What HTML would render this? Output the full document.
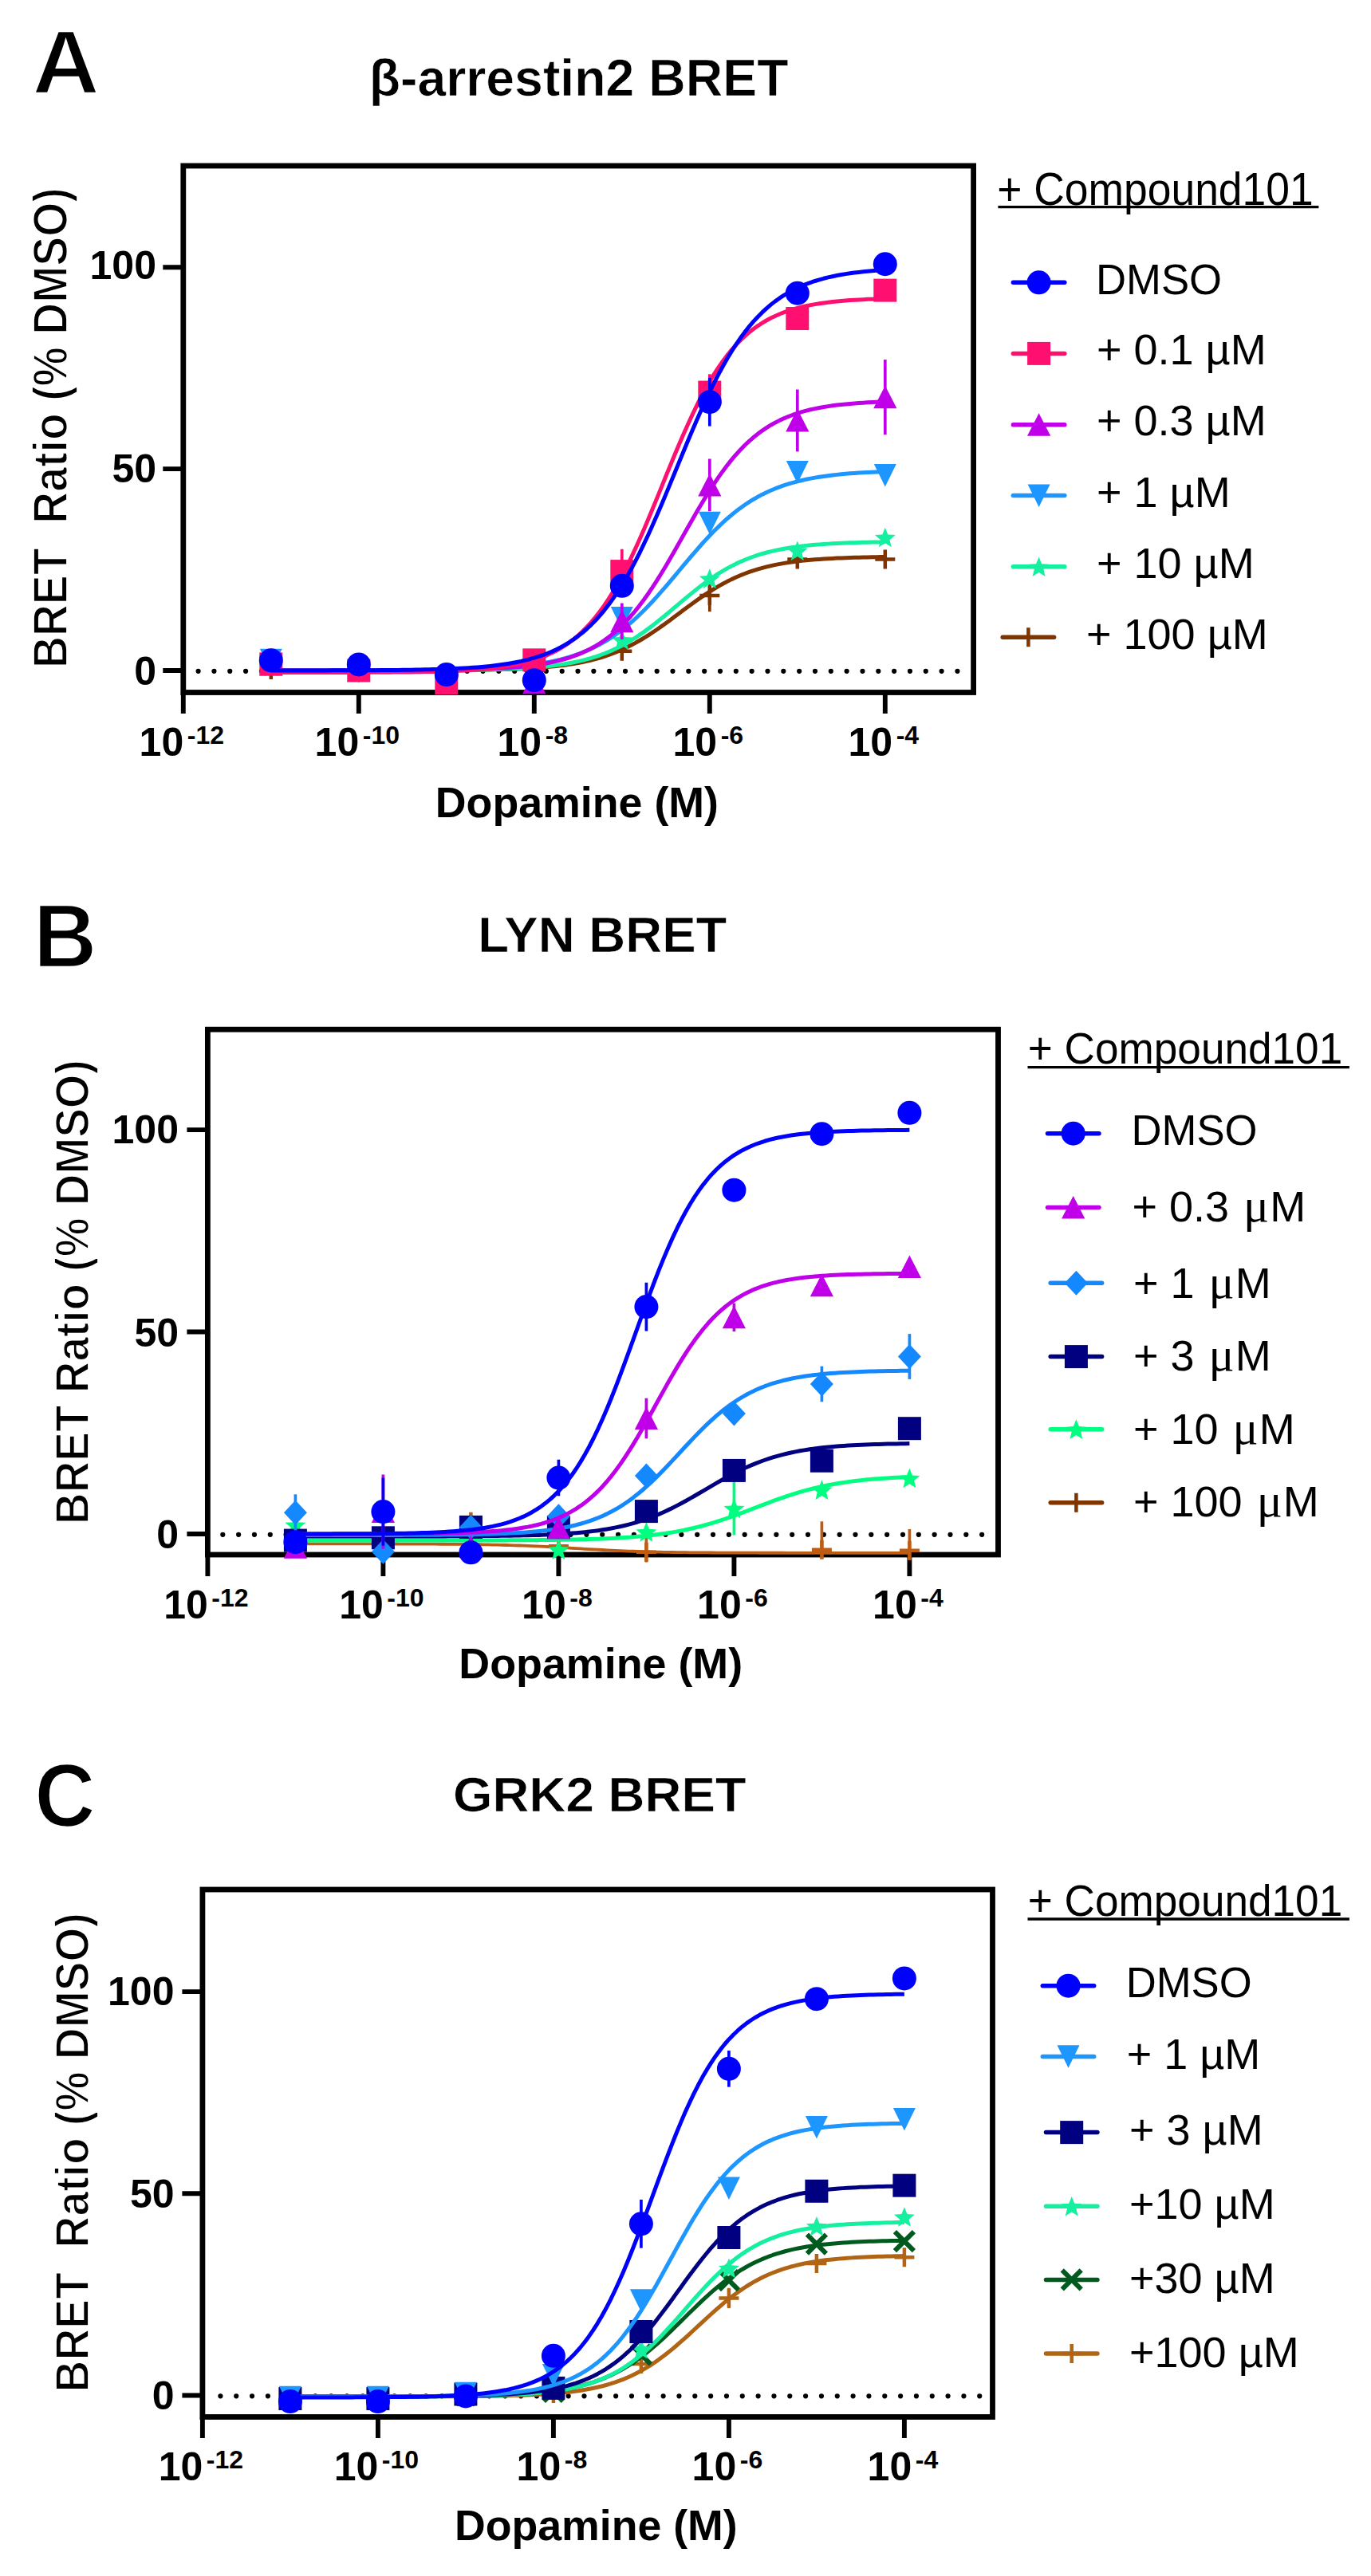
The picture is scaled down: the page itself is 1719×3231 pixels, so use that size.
<!DOCTYPE html>
<html lang="en"><head><meta charset="utf-8"><title>BRET dose-response figure</title>
<style>html,body{margin:0;padding:0;background:#fff}body{width:1719px;height:3231px;overflow:hidden}svg{display:block}text{font-family:'Liberation Sans', Arial, Helvetica, sans-serif;fill:#000}</style>
</head><body>
<svg width="1719" height="3231" viewBox="0 0 1719 3231">
<rect width="1719" height="3231" fill="#fff"/>
<g>
<text x="40.3" y="117.2" font-size="114" font-weight="bold" text-anchor="start" fill="#000" textLength="84.7" lengthAdjust="spacingAndGlyphs" stroke="#fff" stroke-width="2.4">A</text>
<text x="462.7" y="119.5" font-size="65" font-weight="bold" text-anchor="start" fill="#000" textLength="525.8" lengthAdjust="spacingAndGlyphs" stroke="#fff" stroke-width="0.7">β-arrestin2 BRET</text>
<path d="M248.6 841.8H1208.6" stroke="#000" stroke-width="6.2" stroke-linecap="round" stroke-dasharray="0 19.83" fill="none"/>
<rect x="229.8" y="208" width="990.8" height="660.5" fill="none" stroke="#000" stroke-width="6.8"/>
<path d="M204.3 841H229.8M204.3 588.15H229.8M204.3 335.3H229.8M229.8 868.5V895M449.8 868.5V895M669.8 868.5V895M889.8 868.5V895M1109.8 868.5V895" stroke="#000" stroke-width="5.9" fill="none"/>
<path d="M339.8 841 L345.3 841 L350.8 841 L356.3 841 L361.8 840.99 L367.3 840.99 L372.8 840.99 L378.3 840.99 L383.8 840.99 L389.3 840.99 L394.8 840.99 L400.3 840.99 L405.8 840.99 L411.3 840.99 L416.8 840.98 L422.3 840.98 L427.8 840.98 L433.3 840.98 L438.8 840.97 L444.3 840.97 L449.8 840.97 L455.3 840.96 L460.8 840.96 L466.3 840.95 L471.8 840.95 L477.3 840.94 L482.8 840.94 L488.3 840.93 L493.8 840.92 L499.3 840.91 L504.8 840.9 L510.3 840.89 L515.8 840.87 L521.3 840.86 L526.8 840.84 L532.3 840.82 L537.8 840.8 L543.3 840.77 L548.8 840.75 L554.3 840.72 L559.8 840.68 L565.3 840.64 L570.8 840.6 L576.3 840.55 L581.8 840.49 L587.3 840.43 L592.8 840.36 L598.3 840.29 L603.8 840.2 L609.3 840.1 L614.8 839.99 L620.3 839.87 L625.8 839.74 L631.3 839.58 L636.8 839.41 L642.3 839.22 L647.8 839.01 L653.3 838.77 L658.8 838.5 L664.3 838.2 L669.8 837.87 L675.3 837.49 L680.8 837.08 L686.3 836.61 L691.8 836.1 L697.3 835.52 L702.8 834.88 L708.3 834.17 L713.8 833.38 L719.3 832.51 L724.8 831.54 L730.3 830.47 L735.8 829.29 L741.3 827.99 L746.8 826.56 L752.3 825 L757.8 823.29 L763.3 821.42 L768.8 819.39 L774.3 817.19 L779.8 814.82 L785.3 812.27 L790.8 809.53 L796.3 806.62 L801.8 803.52 L807.3 800.25 L812.8 796.81 L818.3 793.22 L823.8 789.49 L829.3 785.63 L834.8 781.68 L840.3 777.65 L845.8 773.56 L851.3 769.44 L856.8 765.33 L862.3 761.24 L867.8 757.21 L873.3 753.25 L878.8 749.4 L884.3 745.67 L889.8 742.08 L895.3 738.64 L900.8 735.37 L906.3 732.27 L911.8 729.35 L917.3 726.62 L922.8 724.07 L928.3 721.69 L933.8 719.49 L939.3 717.47 L944.8 715.6 L950.3 713.89 L955.8 712.32 L961.3 710.9 L966.8 709.6 L972.3 708.42 L977.8 707.35 L983.3 706.38 L988.8 705.51 L994.3 704.72 L999.8 704.01 L1005.3 703.37 L1010.8 702.79 L1016.3 702.27 L1021.8 701.81 L1027.3 701.39 L1032.8 701.02 L1038.3 700.69 L1043.8 700.39 L1049.3 700.12 L1054.8 699.88 L1060.3 699.67 L1065.8 699.47 L1071.3 699.3 L1076.8 699.15 L1082.3 699.01 L1087.8 698.89 L1093.3 698.78 L1098.8 698.69 L1104.3 698.6 L1109.8 698.52" stroke="#803400" stroke-width="5" fill="none" stroke-linejoin="round"/>
<path d="M889.8 726.71V767.17" stroke="#803400" stroke-width="3.7" fill="none"/>
<path d="M327.3 839.99H352.3M339.8 827.99V851.99" stroke="#803400" stroke-width="4.5" fill="none"/>
<path d="M437.3 841H462.3M449.8 829V853" stroke="#803400" stroke-width="4.5" fill="none"/>
<path d="M547.3 846.06H572.3M559.8 834.06V858.06" stroke="#803400" stroke-width="4.5" fill="none"/>
<path d="M657.3 841H682.3M669.8 829V853" stroke="#803400" stroke-width="4.5" fill="none"/>
<path d="M767.3 816.73H792.3M779.8 804.73V828.73" stroke="#803400" stroke-width="4.5" fill="none"/>
<path d="M877.3 746.94H902.3M889.8 734.94V758.94" stroke="#803400" stroke-width="4.5" fill="none"/>
<path d="M987.3 701.43H1012.3M999.8 689.43V713.43" stroke="#803400" stroke-width="4.5" fill="none"/>
<path d="M1097.3 701.43H1122.3M1109.8 689.43V713.43" stroke="#803400" stroke-width="4.5" fill="none"/>
<path d="M339.8 841 L345.3 841 L350.8 841 L356.3 840.99 L361.8 840.99 L367.3 840.99 L372.8 840.99 L378.3 840.99 L383.8 840.99 L389.3 840.99 L394.8 840.99 L400.3 840.99 L405.8 840.98 L411.3 840.98 L416.8 840.98 L422.3 840.98 L427.8 840.98 L433.3 840.97 L438.8 840.97 L444.3 840.97 L449.8 840.96 L455.3 840.96 L460.8 840.95 L466.3 840.95 L471.8 840.94 L477.3 840.93 L482.8 840.92 L488.3 840.91 L493.8 840.9 L499.3 840.89 L504.8 840.88 L510.3 840.86 L515.8 840.85 L521.3 840.83 L526.8 840.81 L532.3 840.78 L537.8 840.76 L543.3 840.73 L548.8 840.69 L554.3 840.65 L559.8 840.61 L565.3 840.57 L570.8 840.51 L576.3 840.45 L581.8 840.39 L587.3 840.31 L592.8 840.23 L598.3 840.14 L603.8 840.03 L609.3 839.91 L614.8 839.78 L620.3 839.63 L625.8 839.47 L631.3 839.28 L636.8 839.08 L642.3 838.85 L647.8 838.59 L653.3 838.3 L658.8 837.97 L664.3 837.61 L669.8 837.21 L675.3 836.76 L680.8 836.26 L686.3 835.7 L691.8 835.07 L697.3 834.38 L702.8 833.61 L708.3 832.75 L713.8 831.8 L719.3 830.75 L724.8 829.59 L730.3 828.31 L735.8 826.89 L741.3 825.34 L746.8 823.63 L752.3 821.77 L757.8 819.73 L763.3 817.51 L768.8 815.1 L774.3 812.5 L779.8 809.69 L785.3 806.68 L790.8 803.47 L796.3 800.04 L801.8 796.42 L807.3 792.61 L812.8 788.62 L818.3 784.46 L823.8 780.15 L829.3 775.72 L834.8 771.2 L840.3 766.59 L845.8 761.95 L851.3 757.29 L856.8 752.66 L862.3 748.07 L867.8 743.56 L873.3 739.15 L878.8 734.87 L884.3 730.75 L889.8 726.79 L895.3 723.01 L900.8 719.43 L906.3 716.05 L911.8 712.88 L917.3 709.91 L922.8 707.14 L928.3 704.58 L933.8 702.21 L939.3 700.03 L944.8 698.02 L950.3 696.19 L955.8 694.51 L961.3 692.99 L966.8 691.6 L972.3 690.34 L977.8 689.2 L983.3 688.18 L988.8 687.25 L994.3 686.41 L999.8 685.65 L1005.3 684.97 L1010.8 684.36 L1016.3 683.81 L1021.8 683.32 L1027.3 682.88 L1032.8 682.49 L1038.3 682.13 L1043.8 681.82 L1049.3 681.53 L1054.8 681.28 L1060.3 681.06 L1065.8 680.85 L1071.3 680.67 L1076.8 680.51 L1082.3 680.37 L1087.8 680.24 L1093.3 680.12 L1098.8 680.02 L1104.3 679.93 L1109.8 679.85" stroke="#14f0a0" stroke-width="5" fill="none" stroke-linejoin="round"/>
<polygon points="339.8,823.54 343.33,832.29 352.73,832.94 345.51,839 347.79,848.15 339.8,843.14 331.81,848.15 334.09,839 326.87,832.94 336.27,832.29" fill="#14f0a0"/>
<polygon points="449.8,828.6 453.33,837.35 462.73,838 455.51,844.05 457.79,853.2 449.8,848.2 441.81,853.2 444.09,844.05 436.87,838 446.27,837.35" fill="#14f0a0"/>
<polygon points="559.8,833.66 563.33,842.4 572.73,843.05 565.51,849.11 567.79,858.26 559.8,853.26 551.81,858.26 554.09,849.11 546.87,843.05 556.27,842.4" fill="#14f0a0"/>
<polygon points="669.8,828.6 673.33,837.35 682.73,838 675.51,844.05 677.79,853.2 669.8,848.2 661.81,853.2 664.09,844.05 656.87,838 666.27,837.35" fill="#14f0a0"/>
<polygon points="779.8,790.17 783.33,798.91 792.73,799.56 785.51,805.62 787.79,814.77 779.8,809.77 771.81,814.77 774.09,805.62 766.87,799.56 776.27,798.91" fill="#14f0a0"/>
<polygon points="889.8,713.3 893.33,722.05 902.73,722.7 895.51,728.75 897.79,737.9 889.8,732.9 881.81,737.9 884.09,728.75 876.87,722.7 886.27,722.05" fill="#14f0a0"/>
<polygon points="999.8,678.41 1003.33,687.15 1012.73,687.8 1005.51,693.86 1007.79,703.01 999.8,698.01 991.81,703.01 994.09,693.86 986.87,687.8 996.27,687.15" fill="#14f0a0"/>
<polygon points="1109.8,661.72 1113.33,670.46 1122.73,671.12 1115.51,677.17 1117.79,686.32 1109.8,681.32 1101.81,686.32 1104.09,677.17 1096.87,671.12 1106.27,670.46" fill="#14f0a0"/>
<path d="M339.8 840.99 L345.3 840.98 L350.8 840.98 L356.3 840.98 L361.8 840.98 L367.3 840.98 L372.8 840.97 L378.3 840.97 L383.8 840.97 L389.3 840.96 L394.8 840.96 L400.3 840.95 L405.8 840.95 L411.3 840.94 L416.8 840.94 L422.3 840.93 L427.8 840.92 L433.3 840.91 L438.8 840.9 L444.3 840.89 L449.8 840.88 L455.3 840.87 L460.8 840.85 L466.3 840.84 L471.8 840.82 L477.3 840.8 L482.8 840.78 L488.3 840.75 L493.8 840.73 L499.3 840.7 L504.8 840.66 L510.3 840.62 L515.8 840.58 L521.3 840.54 L526.8 840.49 L532.3 840.43 L537.8 840.37 L543.3 840.3 L548.8 840.22 L554.3 840.13 L559.8 840.04 L565.3 839.93 L570.8 839.82 L576.3 839.69 L581.8 839.54 L587.3 839.38 L592.8 839.2 L598.3 839.01 L603.8 838.79 L609.3 838.55 L614.8 838.28 L620.3 837.98 L625.8 837.66 L631.3 837.29 L636.8 836.89 L642.3 836.44 L647.8 835.95 L653.3 835.4 L658.8 834.8 L664.3 834.13 L669.8 833.4 L675.3 832.59 L680.8 831.69 L686.3 830.71 L691.8 829.62 L697.3 828.43 L702.8 827.12 L708.3 825.68 L713.8 824.1 L719.3 822.37 L724.8 820.48 L730.3 818.42 L735.8 816.17 L741.3 813.72 L746.8 811.07 L752.3 808.19 L757.8 805.09 L763.3 801.74 L768.8 798.14 L774.3 794.29 L779.8 790.17 L785.3 785.79 L790.8 781.15 L796.3 776.24 L801.8 771.08 L807.3 765.67 L812.8 760.03 L818.3 754.18 L823.8 748.13 L829.3 741.92 L834.8 735.56 L840.3 729.1 L845.8 722.57 L851.3 715.99 L856.8 709.41 L862.3 702.87 L867.8 696.39 L873.3 690.01 L878.8 683.77 L884.3 677.69 L889.8 671.79 L895.3 666.11 L900.8 660.65 L906.3 655.44 L911.8 650.48 L917.3 645.78 L922.8 641.35 L928.3 637.18 L933.8 633.27 L939.3 629.63 L944.8 626.23 L950.3 623.08 L955.8 620.16 L961.3 617.46 L966.8 614.97 L972.3 612.69 L977.8 610.59 L983.3 608.66 L988.8 606.9 L994.3 605.3 L999.8 603.83 L1005.3 602.49 L1010.8 601.28 L1016.3 600.17 L1021.8 599.16 L1027.3 598.25 L1032.8 597.42 L1038.3 596.67 L1043.8 595.99 L1049.3 595.38 L1054.8 594.82 L1060.3 594.32 L1065.8 593.86 L1071.3 593.45 L1076.8 593.08 L1082.3 592.75 L1087.8 592.44 L1093.3 592.17 L1098.8 591.92 L1104.3 591.7 L1109.8 591.5" stroke="#1e96ff" stroke-width="5" fill="none" stroke-linejoin="round"/>
<path d="M339.8 842.15L353.8 813.65H325.8Z" fill="#1e96ff"/>
<path d="M449.8 856.82L463.8 828.32H435.8Z" fill="#1e96ff"/>
<path d="M559.8 870.98L573.8 842.48H545.8Z" fill="#1e96ff"/>
<path d="M669.8 855.3L683.8 826.8H655.8Z" fill="#1e96ff"/>
<path d="M779.8 789.56L793.8 761.06H765.8Z" fill="#1e96ff"/>
<path d="M889.8 670.21L903.8 641.71H875.8Z" fill="#1e96ff"/>
<path d="M999.8 606.5L1013.8 578H985.8Z" fill="#1e96ff"/>
<path d="M1109.8 610.54L1123.8 582.04H1095.8Z" fill="#1e96ff"/>
<path d="M339.8 840.99 L345.3 840.99 L350.8 840.99 L356.3 840.99 L361.8 840.99 L367.3 840.99 L372.8 840.99 L378.3 840.98 L383.8 840.98 L389.3 840.98 L394.8 840.98 L400.3 840.98 L405.8 840.97 L411.3 840.97 L416.8 840.97 L422.3 840.96 L427.8 840.96 L433.3 840.95 L438.8 840.95 L444.3 840.94 L449.8 840.93 L455.3 840.92 L460.8 840.91 L466.3 840.9 L471.8 840.89 L477.3 840.88 L482.8 840.87 L488.3 840.85 L493.8 840.83 L499.3 840.81 L504.8 840.79 L510.3 840.76 L515.8 840.73 L521.3 840.7 L526.8 840.66 L532.3 840.62 L537.8 840.57 L543.3 840.52 L548.8 840.46 L554.3 840.4 L559.8 840.33 L565.3 840.24 L570.8 840.15 L576.3 840.05 L581.8 839.93 L587.3 839.8 L592.8 839.66 L598.3 839.49 L603.8 839.31 L609.3 839.11 L614.8 838.88 L620.3 838.62 L625.8 838.33 L631.3 838.01 L636.8 837.65 L642.3 837.24 L647.8 836.79 L653.3 836.28 L658.8 835.71 L664.3 835.08 L669.8 834.37 L675.3 833.58 L680.8 832.7 L686.3 831.71 L691.8 830.61 L697.3 829.39 L702.8 828.03 L708.3 826.51 L713.8 824.83 L719.3 822.96 L724.8 820.89 L730.3 818.6 L735.8 816.07 L741.3 813.27 L746.8 810.2 L752.3 806.82 L757.8 803.11 L763.3 799.06 L768.8 794.65 L774.3 789.85 L779.8 784.64 L785.3 779.02 L790.8 772.98 L796.3 766.5 L801.8 759.6 L807.3 752.27 L812.8 744.52 L818.3 736.38 L823.8 727.88 L829.3 719.05 L834.8 709.92 L840.3 700.56 L845.8 691.01 L851.3 681.33 L856.8 671.59 L862.3 661.85 L867.8 652.17 L873.3 642.62 L878.8 633.26 L884.3 624.13 L889.8 615.3 L895.3 606.8 L900.8 598.66 L906.3 590.91 L911.8 583.58 L917.3 576.68 L922.8 570.2 L928.3 564.16 L933.8 558.54 L939.3 553.34 L944.8 548.53 L950.3 544.12 L955.8 540.07 L961.3 536.36 L966.8 532.98 L972.3 529.91 L977.8 527.11 L983.3 524.58 L988.8 522.29 L994.3 520.22 L999.8 518.35 L1005.3 516.67 L1010.8 515.15 L1016.3 513.79 L1021.8 512.57 L1027.3 511.47 L1032.8 510.48 L1038.3 509.6 L1043.8 508.81 L1049.3 508.1 L1054.8 507.47 L1060.3 506.9 L1065.8 506.39 L1071.3 505.94 L1076.8 505.54 L1082.3 505.17 L1087.8 504.85 L1093.3 504.56 L1098.8 504.31 L1104.3 504.08 L1109.8 503.87" stroke="#c000e8" stroke-width="5" fill="none" stroke-linejoin="round"/>
<path d="M889.8 575.51V641.25" stroke="#c000e8" stroke-width="3.7" fill="none"/>
<path d="M999.8 488.53V566.4" stroke="#c000e8" stroke-width="3.7" fill="none"/>
<path d="M1109.8 451.11V545.17" stroke="#c000e8" stroke-width="3.7" fill="none"/>
<path d="M779.8 756.55V802.06" stroke="#c000e8" stroke-width="3.7" fill="none"/>
<path d="M339.8 818.91L354.4 847.41H325.2Z" fill="#c000e8"/>
<path d="M449.8 826.5L464.4 855H435.2Z" fill="#c000e8"/>
<path d="M559.8 839.14L574.4 867.64H545.2Z" fill="#c000e8"/>
<path d="M669.8 841.67L684.4 870.17H655.2Z" fill="#c000e8"/>
<path d="M779.8 764.8L794.4 793.3H765.2Z" fill="#c000e8"/>
<path d="M889.8 593.88L904.4 622.38H875.2Z" fill="#c000e8"/>
<path d="M999.8 512.97L1014.4 541.47H985.2Z" fill="#c000e8"/>
<path d="M1109.8 483.64L1124.4 512.14H1095.2Z" fill="#c000e8"/>
<path d="M339.8 843.51 L345.3 843.51 L350.8 843.51 L356.3 843.51 L361.8 843.5 L367.3 843.5 L372.8 843.5 L378.3 843.49 L383.8 843.49 L389.3 843.48 L394.8 843.48 L400.3 843.47 L405.8 843.46 L411.3 843.46 L416.8 843.45 L422.3 843.44 L427.8 843.43 L433.3 843.41 L438.8 843.4 L444.3 843.38 L449.8 843.37 L455.3 843.35 L460.8 843.32 L466.3 843.3 L471.8 843.27 L477.3 843.24 L482.8 843.2 L488.3 843.16 L493.8 843.12 L499.3 843.07 L504.8 843.01 L510.3 842.95 L515.8 842.88 L521.3 842.8 L526.8 842.71 L532.3 842.61 L537.8 842.5 L543.3 842.38 L548.8 842.24 L554.3 842.08 L559.8 841.9 L565.3 841.71 L570.8 841.48 L576.3 841.24 L581.8 840.96 L587.3 840.65 L592.8 840.3 L598.3 839.91 L603.8 839.47 L609.3 838.98 L614.8 838.43 L620.3 837.81 L625.8 837.12 L631.3 836.36 L636.8 835.5 L642.3 834.53 L647.8 833.46 L653.3 832.26 L658.8 830.92 L664.3 829.43 L669.8 827.77 L675.3 825.92 L680.8 823.86 L686.3 821.57 L691.8 819.03 L697.3 816.21 L702.8 813.1 L708.3 809.65 L713.8 805.85 L719.3 801.66 L724.8 797.06 L730.3 792.01 L735.8 786.48 L741.3 780.46 L746.8 773.9 L752.3 766.79 L757.8 759.11 L763.3 750.84 L768.8 741.97 L774.3 732.5 L779.8 722.44 L785.3 711.81 L790.8 700.62 L796.3 688.91 L801.8 676.74 L807.3 664.15 L812.8 651.21 L818.3 638 L823.8 624.6 L829.3 611.09 L834.8 597.56 L840.3 584.1 L845.8 570.8 L851.3 557.74 L856.8 545.01 L862.3 532.66 L867.8 520.76 L873.3 509.36 L878.8 498.5 L884.3 488.21 L889.8 478.5 L895.3 469.39 L900.8 460.89 L906.3 452.97 L911.8 445.63 L917.3 438.86 L922.8 432.62 L928.3 426.9 L933.8 421.66 L939.3 416.89 L944.8 412.53 L950.3 408.58 L955.8 405 L961.3 401.75 L966.8 398.82 L972.3 396.17 L977.8 393.78 L983.3 391.64 L988.8 389.7 L994.3 387.97 L999.8 386.41 L1005.3 385.01 L1010.8 383.76 L1016.3 382.64 L1021.8 381.63 L1027.3 380.73 L1032.8 379.93 L1038.3 379.21 L1043.8 378.57 L1049.3 377.99 L1054.8 377.48 L1060.3 377.02 L1065.8 376.61 L1071.3 376.24 L1076.8 375.92 L1082.3 375.63 L1087.8 375.37 L1093.3 375.14 L1098.8 374.93 L1104.3 374.74 L1109.8 374.58" stroke="#ff1070" stroke-width="5" fill="none" stroke-linejoin="round"/>
<path d="M779.8 688.78V744.41" stroke="#ff1070" stroke-width="3.7" fill="none"/>
<path d="M889.8 469.31V514.82" stroke="#ff1070" stroke-width="3.7" fill="none"/>
<rect x="325.3" y="818.41" width="29" height="29" fill="#ff1070"/>
<rect x="435.3" y="826.5" width="29" height="29" fill="#ff1070"/>
<rect x="545.3" y="842.18" width="29" height="29" fill="#ff1070"/>
<rect x="655.3" y="813.35" width="29" height="29" fill="#ff1070"/>
<rect x="765.3" y="702.1" width="29" height="29" fill="#ff1070"/>
<rect x="875.3" y="477.57" width="29" height="29" fill="#ff1070"/>
<rect x="985.3" y="385.02" width="29" height="29" fill="#ff1070"/>
<rect x="1095.3" y="349.62" width="29" height="29" fill="#ff1070"/>
<path d="M339.8 840.97 L345.3 840.97 L350.8 840.96 L356.3 840.96 L361.8 840.96 L367.3 840.95 L372.8 840.95 L378.3 840.94 L383.8 840.93 L389.3 840.93 L394.8 840.92 L400.3 840.91 L405.8 840.9 L411.3 840.89 L416.8 840.87 L422.3 840.86 L427.8 840.85 L433.3 840.83 L438.8 840.81 L444.3 840.79 L449.8 840.76 L455.3 840.74 L460.8 840.71 L466.3 840.68 L471.8 840.64 L477.3 840.6 L482.8 840.55 L488.3 840.5 L493.8 840.45 L499.3 840.39 L504.8 840.32 L510.3 840.24 L515.8 840.16 L521.3 840.07 L526.8 839.96 L532.3 839.85 L537.8 839.72 L543.3 839.57 L548.8 839.41 L554.3 839.24 L559.8 839.04 L565.3 838.82 L570.8 838.58 L576.3 838.31 L581.8 838.02 L587.3 837.68 L592.8 837.32 L598.3 836.91 L603.8 836.45 L609.3 835.95 L614.8 835.39 L620.3 834.78 L625.8 834.09 L631.3 833.33 L636.8 832.49 L642.3 831.55 L647.8 830.52 L653.3 829.38 L658.8 828.11 L664.3 826.71 L669.8 825.16 L675.3 823.45 L680.8 821.57 L686.3 819.49 L691.8 817.2 L697.3 814.68 L702.8 811.91 L708.3 808.86 L713.8 805.53 L719.3 801.87 L724.8 797.87 L730.3 793.5 L735.8 788.75 L741.3 783.57 L746.8 777.95 L752.3 771.87 L757.8 765.3 L763.3 758.23 L768.8 750.64 L774.3 742.51 L779.8 733.83 L785.3 724.61 L790.8 714.85 L796.3 704.56 L801.8 693.76 L807.3 682.46 L812.8 670.71 L818.3 658.55 L823.8 646.03 L829.3 633.19 L834.8 620.12 L840.3 606.86 L845.8 593.51 L851.3 580.12 L856.8 566.78 L862.3 553.55 L867.8 540.52 L873.3 527.74 L878.8 515.29 L884.3 503.2 L889.8 491.54 L895.3 480.34 L900.8 469.64 L906.3 459.45 L911.8 449.8 L917.3 440.69 L922.8 432.13 L928.3 424.1 L933.8 416.61 L939.3 409.64 L944.8 403.17 L950.3 397.19 L955.8 391.66 L961.3 386.57 L966.8 381.89 L972.3 377.6 L977.8 373.67 L983.3 370.08 L988.8 366.8 L994.3 363.82 L999.8 361.1 L1005.3 358.62 L1010.8 356.38 L1016.3 354.34 L1021.8 352.49 L1027.3 350.82 L1032.8 349.3 L1038.3 347.93 L1043.8 346.69 L1049.3 345.57 L1054.8 344.55 L1060.3 343.64 L1065.8 342.81 L1071.3 342.07 L1076.8 341.4 L1082.3 340.79 L1087.8 340.24 L1093.3 339.75 L1098.8 339.31 L1104.3 338.91 L1109.8 338.55" stroke="#0000ff" stroke-width="5" fill="none" stroke-linejoin="round"/>
<path d="M889.8 473.86V534.55" stroke="#0000ff" stroke-width="3.7" fill="none"/>
<circle cx="339.8" cy="828.36" r="15" fill="#0000ff"/>
<circle cx="449.8" cy="833.41" r="15" fill="#0000ff"/>
<circle cx="559.8" cy="846.06" r="15" fill="#0000ff"/>
<circle cx="669.8" cy="853.14" r="15" fill="#0000ff"/>
<circle cx="779.8" cy="734.8" r="15" fill="#0000ff"/>
<circle cx="889.8" cy="504.2" r="15" fill="#0000ff"/>
<circle cx="999.8" cy="367.66" r="15" fill="#0000ff"/>
<circle cx="1109.8" cy="331.25" r="15" fill="#0000ff"/>
<text x="196" y="859" font-size="50" font-weight="bold" text-anchor="end" fill="#000" >0</text>
<text x="196" y="604.95" font-size="50" font-weight="bold" text-anchor="end" fill="#000" >50</text>
<text x="196" y="350.3" font-size="50" font-weight="bold" text-anchor="end" fill="#000" >100</text>
<text x="227.8" y="948" font-size="50" font-weight="bold" text-anchor="middle">10<tspan font-size="32" dy="-15" dx="4.5">-12</tspan></text>
<text x="447.8" y="948" font-size="50" font-weight="bold" text-anchor="middle">10<tspan font-size="32" dy="-15" dx="4.5">-10</tspan></text>
<text x="667.8" y="948" font-size="50" font-weight="bold" text-anchor="middle">10<tspan font-size="32" dy="-15" dx="4.5">-8</tspan></text>
<text x="887.8" y="948" font-size="50" font-weight="bold" text-anchor="middle">10<tspan font-size="32" dy="-15" dx="4.5">-6</tspan></text>
<text x="1107.8" y="948" font-size="50" font-weight="bold" text-anchor="middle">10<tspan font-size="32" dy="-15" dx="4.5">-4</tspan></text>
<text x="545.8" y="1025.3" font-size="53" font-weight="bold" text-anchor="start" fill="#000" textLength="355.1" lengthAdjust="spacingAndGlyphs" >Dopamine (M)</text>
<text transform="translate(83.5 838.1) rotate(-90)" font-size="60.5" font-weight="bold" textLength="602.8" lengthAdjust="spacingAndGlyphs" xml:space="preserve" stroke="#fff" stroke-width="1.8">BRET  Ratio (% DMSO)</text>
<text x="1250.2" y="257" font-size="57" font-weight="normal" text-anchor="start" fill="#000" textLength="396.5" lengthAdjust="spacingAndGlyphs" >+ Compound101</text>
<path d="M1251.4 259.6H1653.4" stroke="#000" stroke-width="3.4" fill="none"/>
<path d="M1270.4 354.3H1334.8" stroke="#0000ff" stroke-width="5.5" stroke-linecap="round" fill="none"/>
<circle cx="1302.6" cy="354.3" r="15" fill="#0000ff"/>
<text x="1374" y="368.6" font-size="54" font-weight="normal" text-anchor="start" fill="#000" textLength="158" lengthAdjust="spacingAndGlyphs" xml:space="preserve">DMSO</text>
<path d="M1270.4 443.4H1334.8" stroke="#ff1070" stroke-width="5.5" stroke-linecap="round" fill="none"/>
<rect x="1288.1" y="428.9" width="29" height="29" fill="#ff1070"/>
<text x="1375" y="457.4" font-size="54" font-weight="normal" text-anchor="start" fill="#000" xml:space="preserve">+ 0.1 µM</text>
<path d="M1270.4 532.8H1334.8" stroke="#c000e8" stroke-width="5.5" stroke-linecap="round" fill="none"/>
<path d="M1302.6 518.3L1317.2 546.8H1288Z" fill="#c000e8"/>
<text x="1375" y="546" font-size="54" font-weight="normal" text-anchor="start" fill="#000" xml:space="preserve">+ 0.3 µM</text>
<path d="M1270.4 621.6H1334.8" stroke="#1e96ff" stroke-width="5.5" stroke-linecap="round" fill="none"/>
<path d="M1302.6 635.9L1316.6 607.4H1288.6Z" fill="#1e96ff"/>
<text x="1375" y="636" font-size="54" font-weight="normal" text-anchor="start" fill="#000" xml:space="preserve">+ 1 µM</text>
<path d="M1270.4 710.8H1334.8" stroke="#14f0a0" stroke-width="5.5" stroke-linecap="round" fill="none"/>
<polygon points="1302.6,698.4 1306.13,707.15 1315.53,707.8 1308.31,713.85 1310.59,723 1302.6,718 1294.61,723 1296.89,713.85 1289.67,707.8 1299.07,707.15" fill="#14f0a0"/>
<text x="1375" y="725" font-size="54" font-weight="normal" text-anchor="start" fill="#000" xml:space="preserve">+ 10 µM</text>
<path d="M1257.2 799.2H1321.6" stroke="#803400" stroke-width="5.5" stroke-linecap="round" fill="none"/>
<path d="M1276.9 799.2H1301.9M1289.4 787.2V811.2" stroke="#803400" stroke-width="4.5" fill="none"/>
<text x="1362" y="814.3" font-size="54" font-weight="normal" text-anchor="start" fill="#000" xml:space="preserve">+ 100 µM</text>
</g>
<g>
<text x="41.8" y="1212.5" font-size="114" font-weight="bold" text-anchor="start" fill="#000" textLength="79.8" lengthAdjust="spacingAndGlyphs" stroke="#fff" stroke-width="2.4">B</text>
<text x="599.3" y="1194" font-size="63" font-weight="bold" text-anchor="start" fill="#000" textLength="312.1" lengthAdjust="spacingAndGlyphs" stroke="#fff" stroke-width="0.7">LYN BRET</text>
<path d="M279.3 1924.8H1239.5" stroke="#000" stroke-width="6.2" stroke-linecap="round" stroke-dasharray="0 19.83" fill="none"/>
<rect x="260.4" y="1291.2" width="991.1" height="658.8" fill="none" stroke="#000" stroke-width="6.8"/>
<path d="M234.4 1924H260.4M234.4 1670.55H260.4M234.4 1417.1H260.4M260.4 1950V1977M480.4 1950V1977M700.4 1950V1977M920.4 1950V1977M1140.4 1950V1977" stroke="#000" stroke-width="5.9" fill="none"/>
<path d="M370.4 1936.43 L375.9 1936.43 L381.4 1936.43 L386.9 1936.43 L392.4 1936.43 L397.9 1936.43 L403.4 1936.43 L408.9 1936.44 L414.4 1936.44 L419.9 1936.44 L425.4 1936.44 L430.9 1936.44 L436.4 1936.45 L441.9 1936.45 L447.4 1936.46 L452.9 1936.46 L458.4 1936.46 L463.9 1936.47 L469.4 1936.48 L474.9 1936.48 L480.4 1936.49 L485.9 1936.5 L491.4 1936.51 L496.9 1936.52 L502.4 1936.53 L507.9 1936.55 L513.4 1936.56 L518.9 1936.58 L524.4 1936.6 L529.9 1936.62 L535.4 1936.64 L540.9 1936.67 L546.4 1936.7 L551.9 1936.73 L557.4 1936.77 L562.9 1936.81 L568.4 1936.86 L573.9 1936.91 L579.4 1936.96 L584.9 1937.03 L590.4 1937.1 L595.9 1937.17 L601.4 1937.26 L606.9 1937.35 L612.4 1937.46 L617.9 1937.57 L623.4 1937.69 L628.9 1937.83 L634.4 1937.98 L639.9 1938.14 L645.4 1938.32 L650.9 1938.51 L656.4 1938.71 L661.9 1938.93 L667.4 1939.16 L672.9 1939.41 L678.4 1939.67 L683.9 1939.94 L689.4 1940.23 L694.9 1940.52 L700.4 1940.83 L705.9 1941.15 L711.4 1941.47 L716.9 1941.79 L722.4 1942.12 L727.9 1942.45 L733.4 1942.78 L738.9 1943.1 L744.4 1943.41 L749.9 1943.72 L755.4 1944.02 L760.9 1944.3 L766.4 1944.58 L771.9 1944.84 L777.4 1945.08 L782.9 1945.32 L788.4 1945.53 L793.9 1945.74 L799.4 1945.93 L804.9 1946.1 L810.4 1946.26 L815.9 1946.41 L821.4 1946.55 L826.9 1946.67 L832.4 1946.79 L837.9 1946.89 L843.4 1946.99 L848.9 1947.07 L854.4 1947.15 L859.9 1947.22 L865.4 1947.28 L870.9 1947.34 L876.4 1947.39 L881.9 1947.43 L887.4 1947.47 L892.9 1947.51 L898.4 1947.54 L903.9 1947.57 L909.4 1947.6 L914.9 1947.63 L920.4 1947.65 L925.9 1947.67 L931.4 1947.68 L936.9 1947.7 L942.4 1947.71 L947.9 1947.72 L953.4 1947.73 L958.9 1947.74 L964.4 1947.75 L969.9 1947.76 L975.4 1947.77 L980.9 1947.77 L986.4 1947.78 L991.9 1947.78 L997.4 1947.79 L1002.9 1947.79 L1008.4 1947.8 L1013.9 1947.8 L1019.4 1947.8 L1024.9 1947.8 L1030.4 1947.81 L1035.9 1947.81 L1041.4 1947.81 L1046.9 1947.81 L1052.4 1947.81 L1057.9 1947.81 L1063.4 1947.82 L1068.9 1947.82 L1074.4 1947.82 L1079.9 1947.82 L1085.4 1947.82 L1090.9 1947.82 L1096.4 1947.82 L1101.9 1947.82 L1107.4 1947.82 L1112.9 1947.82 L1118.4 1947.82 L1123.9 1947.82 L1129.4 1947.82 L1134.9 1947.82 L1140.4 1947.82" stroke="#be5c14" stroke-width="3.8" fill="none" stroke-linejoin="round"/>
<path d="M1030.4 1908.29V1954.92" stroke="#be5c14" stroke-width="3.7" fill="none"/>
<path d="M1140.4 1917.92V1956.44" stroke="#be5c14" stroke-width="3.7" fill="none"/>
<path d="M810.4 1929.07V1959.48" stroke="#be5c14" stroke-width="3.7" fill="none"/>
<path d="M357.9 1934.14H382.9M370.4 1922.14V1946.14" stroke="#be5c14" stroke-width="4.5" fill="none"/>
<path d="M467.9 1934.14H492.9M480.4 1922.14V1946.14" stroke="#be5c14" stroke-width="4.5" fill="none"/>
<path d="M577.9 1908.79H602.9M590.4 1896.79V1920.79" stroke="#be5c14" stroke-width="4.5" fill="none"/>
<path d="M687.9 1939.21H712.9M700.4 1927.21V1951.21" stroke="#be5c14" stroke-width="4.5" fill="none"/>
<path d="M797.9 1946.81H822.9M810.4 1934.81V1958.81" stroke="#be5c14" stroke-width="4.5" fill="none"/>
<path d="M1017.9 1943.77H1042.9M1030.4 1931.77V1955.77" stroke="#be5c14" stroke-width="4.5" fill="none"/>
<path d="M1127.9 1944.78H1152.9M1140.4 1932.78V1956.78" stroke="#be5c14" stroke-width="4.5" fill="none"/>
<path d="M370.4 1932.11 L375.9 1932.11 L381.4 1932.11 L386.9 1932.11 L392.4 1932.11 L397.9 1932.11 L403.4 1932.11 L408.9 1932.11 L414.4 1932.11 L419.9 1932.11 L425.4 1932.11 L430.9 1932.11 L436.4 1932.1 L441.9 1932.1 L447.4 1932.1 L452.9 1932.1 L458.4 1932.1 L463.9 1932.1 L469.4 1932.1 L474.9 1932.1 L480.4 1932.1 L485.9 1932.1 L491.4 1932.09 L496.9 1932.09 L502.4 1932.09 L507.9 1932.09 L513.4 1932.09 L518.9 1932.08 L524.4 1932.08 L529.9 1932.08 L535.4 1932.08 L540.9 1932.07 L546.4 1932.07 L551.9 1932.06 L557.4 1932.06 L562.9 1932.05 L568.4 1932.04 L573.9 1932.04 L579.4 1932.03 L584.9 1932.02 L590.4 1932.01 L595.9 1932 L601.4 1931.99 L606.9 1931.97 L612.4 1931.96 L617.9 1931.94 L623.4 1931.93 L628.9 1931.91 L634.4 1931.88 L639.9 1931.86 L645.4 1931.83 L650.9 1931.8 L656.4 1931.77 L661.9 1931.73 L667.4 1931.69 L672.9 1931.64 L678.4 1931.59 L683.9 1931.53 L689.4 1931.47 L694.9 1931.4 L700.4 1931.33 L705.9 1931.24 L711.4 1931.15 L716.9 1931.04 L722.4 1930.93 L727.9 1930.8 L733.4 1930.66 L738.9 1930.51 L744.4 1930.34 L749.9 1930.15 L755.4 1929.94 L760.9 1929.71 L766.4 1929.46 L771.9 1929.18 L777.4 1928.87 L782.9 1928.53 L788.4 1928.16 L793.9 1927.75 L799.4 1927.3 L804.9 1926.81 L810.4 1926.27 L815.9 1925.69 L821.4 1925.05 L826.9 1924.35 L832.4 1923.59 L837.9 1922.76 L843.4 1921.87 L848.9 1920.91 L854.4 1919.87 L859.9 1918.75 L865.4 1917.55 L870.9 1916.27 L876.4 1914.91 L881.9 1913.46 L887.4 1911.92 L892.9 1910.31 L898.4 1908.61 L903.9 1906.84 L909.4 1905 L914.9 1903.09 L920.4 1901.13 L925.9 1899.11 L931.4 1897.06 L936.9 1894.97 L942.4 1892.87 L947.9 1890.76 L953.4 1888.65 L958.9 1886.55 L964.4 1884.48 L969.9 1882.44 L975.4 1880.45 L980.9 1878.52 L986.4 1876.64 L991.9 1874.84 L997.4 1873.1 L1002.9 1871.45 L1008.4 1869.88 L1013.9 1868.39 L1019.4 1866.98 L1024.9 1865.66 L1030.4 1864.42 L1035.9 1863.27 L1041.4 1862.19 L1046.9 1861.19 L1052.4 1860.27 L1057.9 1859.41 L1063.4 1858.62 L1068.9 1857.89 L1074.4 1857.22 L1079.9 1856.61 L1085.4 1856.05 L1090.9 1855.54 L1096.4 1855.07 L1101.9 1854.64 L1107.4 1854.25 L1112.9 1853.9 L1118.4 1853.58 L1123.9 1853.29 L1129.4 1853.02 L1134.9 1852.78 L1140.4 1852.56" stroke="#00ff80" stroke-width="5" fill="none" stroke-linejoin="round"/>
<path d="M920.4 1858.61V1925.52" stroke="#00ff80" stroke-width="3.7" fill="none"/>
<polygon points="370.4,1900.45 373.93,1909.19 383.33,1909.85 376.11,1915.9 378.39,1925.05 370.4,1920.05 362.41,1925.05 364.69,1915.9 357.47,1909.85 366.87,1909.19" fill="#00ff80"/>
<polygon points="480.4,1916.67 483.93,1925.41 493.33,1926.07 486.11,1932.12 488.39,1941.27 480.4,1936.27 472.41,1941.27 474.69,1932.12 467.47,1926.07 476.87,1925.41" fill="#00ff80"/>
<polygon points="590.4,1911.6 593.93,1920.35 603.33,1921 596.11,1927.05 598.39,1936.2 590.4,1931.2 582.41,1936.2 584.69,1927.05 577.47,1921 586.87,1920.35" fill="#00ff80"/>
<polygon points="700.4,1931.37 703.93,1940.11 713.33,1940.77 706.11,1946.82 708.39,1955.97 700.4,1950.97 692.41,1955.97 694.69,1946.82 687.47,1940.77 696.87,1940.11" fill="#00ff80"/>
<polygon points="810.4,1909.07 813.93,1917.81 823.33,1918.46 816.11,1924.52 818.39,1933.67 810.4,1928.67 802.41,1933.67 804.69,1924.52 797.47,1918.46 806.87,1917.81" fill="#00ff80"/>
<polygon points="920.4,1879.67 923.93,1888.41 933.33,1889.06 926.11,1895.12 928.39,1904.27 920.4,1899.27 912.41,1904.27 914.69,1895.12 907.47,1889.06 916.87,1888.41" fill="#00ff80"/>
<polygon points="1030.4,1856.35 1033.93,1865.09 1043.33,1865.75 1036.11,1871.8 1038.39,1880.95 1030.4,1875.95 1022.41,1880.95 1024.69,1871.8 1017.47,1865.75 1026.87,1865.09" fill="#00ff80"/>
<polygon points="1140.4,1841.65 1143.93,1850.39 1153.33,1851.05 1146.11,1857.1 1148.39,1866.25 1140.4,1861.25 1132.41,1866.25 1134.69,1857.1 1127.47,1851.05 1136.87,1850.39" fill="#00ff80"/>
<path d="M370.4 1927.04 L375.9 1927.04 L381.4 1927.04 L386.9 1927.04 L392.4 1927.04 L397.9 1927.03 L403.4 1927.03 L408.9 1927.03 L414.4 1927.03 L419.9 1927.03 L425.4 1927.03 L430.9 1927.03 L436.4 1927.03 L441.9 1927.03 L447.4 1927.02 L452.9 1927.02 L458.4 1927.02 L463.9 1927.02 L469.4 1927.01 L474.9 1927.01 L480.4 1927.01 L485.9 1927 L491.4 1927 L496.9 1926.99 L502.4 1926.99 L507.9 1926.98 L513.4 1926.97 L518.9 1926.97 L524.4 1926.96 L529.9 1926.95 L535.4 1926.94 L540.9 1926.92 L546.4 1926.91 L551.9 1926.89 L557.4 1926.88 L562.9 1926.86 L568.4 1926.84 L573.9 1926.81 L579.4 1926.79 L584.9 1926.76 L590.4 1926.72 L595.9 1926.68 L601.4 1926.64 L606.9 1926.6 L612.4 1926.55 L617.9 1926.49 L623.4 1926.42 L628.9 1926.35 L634.4 1926.27 L639.9 1926.18 L645.4 1926.08 L650.9 1925.97 L656.4 1925.85 L661.9 1925.71 L667.4 1925.56 L672.9 1925.39 L678.4 1925.19 L683.9 1924.98 L689.4 1924.75 L694.9 1924.48 L700.4 1924.19 L705.9 1923.87 L711.4 1923.51 L716.9 1923.11 L722.4 1922.67 L727.9 1922.18 L733.4 1921.64 L738.9 1921.04 L744.4 1920.38 L749.9 1919.65 L755.4 1918.84 L760.9 1917.96 L766.4 1916.99 L771.9 1915.92 L777.4 1914.76 L782.9 1913.49 L788.4 1912.11 L793.9 1910.61 L799.4 1908.99 L804.9 1907.23 L810.4 1905.35 L815.9 1903.33 L821.4 1901.17 L826.9 1898.87 L832.4 1896.44 L837.9 1893.87 L843.4 1891.19 L848.9 1888.38 L854.4 1885.46 L859.9 1882.46 L865.4 1879.37 L870.9 1876.21 L876.4 1873.02 L881.9 1869.79 L887.4 1866.55 L892.9 1863.33 L898.4 1860.14 L903.9 1857 L909.4 1853.92 L914.9 1850.93 L920.4 1848.04 L925.9 1845.26 L931.4 1842.59 L936.9 1840.05 L942.4 1837.65 L947.9 1835.38 L953.4 1833.25 L958.9 1831.25 L964.4 1829.39 L969.9 1827.67 L975.4 1826.07 L980.9 1824.59 L986.4 1823.23 L991.9 1821.99 L997.4 1820.84 L1002.9 1819.8 L1008.4 1818.85 L1013.9 1817.98 L1019.4 1817.19 L1024.9 1816.48 L1030.4 1815.83 L1035.9 1815.24 L1041.4 1814.71 L1046.9 1814.23 L1052.4 1813.8 L1057.9 1813.4 L1063.4 1813.05 L1068.9 1812.74 L1074.4 1812.45 L1079.9 1812.19 L1085.4 1811.96 L1090.9 1811.75 L1096.4 1811.57 L1101.9 1811.4 L1107.4 1811.25 L1112.9 1811.12 L1118.4 1810.99 L1123.9 1810.89 L1129.4 1810.79 L1134.9 1810.7 L1140.4 1810.62" stroke="#000080" stroke-width="5" fill="none" stroke-linejoin="round"/>
<rect x="355.9" y="1917.61" width="29" height="29" fill="#000080"/>
<rect x="465.9" y="1914.32" width="29" height="29" fill="#000080"/>
<rect x="575.9" y="1900.88" width="29" height="29" fill="#000080"/>
<rect x="685.9" y="1900.88" width="29" height="29" fill="#000080"/>
<rect x="795.9" y="1881.11" width="29" height="29" fill="#000080"/>
<rect x="905.9" y="1829.92" width="29" height="29" fill="#000080"/>
<rect x="1015.9" y="1817.75" width="29" height="29" fill="#000080"/>
<rect x="1125.9" y="1777.2" width="29" height="29" fill="#000080"/>
<path d="M370.4 1925.51 L375.9 1925.51 L381.4 1925.51 L386.9 1925.51 L392.4 1925.51 L397.9 1925.51 L403.4 1925.5 L408.9 1925.5 L414.4 1925.5 L419.9 1925.5 L425.4 1925.49 L430.9 1925.49 L436.4 1925.49 L441.9 1925.48 L447.4 1925.48 L452.9 1925.47 L458.4 1925.47 L463.9 1925.46 L469.4 1925.45 L474.9 1925.44 L480.4 1925.43 L485.9 1925.42 L491.4 1925.41 L496.9 1925.4 L502.4 1925.38 L507.9 1925.37 L513.4 1925.35 L518.9 1925.33 L524.4 1925.3 L529.9 1925.28 L535.4 1925.25 L540.9 1925.22 L546.4 1925.18 L551.9 1925.14 L557.4 1925.09 L562.9 1925.04 L568.4 1924.98 L573.9 1924.91 L579.4 1924.84 L584.9 1924.76 L590.4 1924.66 L595.9 1924.56 L601.4 1924.44 L606.9 1924.31 L612.4 1924.16 L617.9 1924 L623.4 1923.81 L628.9 1923.61 L634.4 1923.38 L639.9 1923.12 L645.4 1922.83 L650.9 1922.51 L656.4 1922.14 L661.9 1921.74 L667.4 1921.29 L672.9 1920.78 L678.4 1920.22 L683.9 1919.59 L689.4 1918.89 L694.9 1918.11 L700.4 1917.24 L705.9 1916.28 L711.4 1915.21 L716.9 1914.02 L722.4 1912.7 L727.9 1911.25 L733.4 1909.64 L738.9 1907.87 L744.4 1905.92 L749.9 1903.78 L755.4 1901.43 L760.9 1898.87 L766.4 1896.08 L771.9 1893.06 L777.4 1889.78 L782.9 1886.25 L788.4 1882.45 L793.9 1878.39 L799.4 1874.07 L804.9 1869.5 L810.4 1864.67 L815.9 1859.61 L821.4 1854.34 L826.9 1848.87 L832.4 1843.24 L837.9 1837.48 L843.4 1831.61 L848.9 1825.68 L854.4 1819.73 L859.9 1813.8 L865.4 1807.92 L870.9 1802.13 L876.4 1796.47 L881.9 1790.97 L887.4 1785.65 L892.9 1780.55 L898.4 1775.68 L903.9 1771.05 L909.4 1766.68 L914.9 1762.57 L920.4 1758.72 L925.9 1755.13 L931.4 1751.81 L936.9 1748.73 L942.4 1745.89 L947.9 1743.29 L953.4 1740.9 L958.9 1738.72 L964.4 1736.73 L969.9 1734.93 L975.4 1733.29 L980.9 1731.8 L986.4 1730.46 L991.9 1729.25 L997.4 1728.15 L1002.9 1727.17 L1008.4 1726.28 L1013.9 1725.48 L1019.4 1724.77 L1024.9 1724.13 L1030.4 1723.55 L1035.9 1723.03 L1041.4 1722.57 L1046.9 1722.16 L1052.4 1721.79 L1057.9 1721.46 L1063.4 1721.16 L1068.9 1720.9 L1074.4 1720.66 L1079.9 1720.45 L1085.4 1720.26 L1090.9 1720.09 L1096.4 1719.94 L1101.9 1719.81 L1107.4 1719.69 L1112.9 1719.58 L1118.4 1719.49 L1123.9 1719.4 L1129.4 1719.33 L1134.9 1719.26 L1140.4 1719.2" stroke="#1488ff" stroke-width="5" fill="none" stroke-linejoin="round"/>
<path d="M370.4 1874.32V1919.94" stroke="#1488ff" stroke-width="3.7" fill="none"/>
<path d="M1030.4 1713.64V1758.24" stroke="#1488ff" stroke-width="3.7" fill="none"/>
<path d="M1140.4 1673.08V1729.86" stroke="#1488ff" stroke-width="3.7" fill="none"/>
<path d="M370.4 1881.63L384.9 1897.13L370.4 1912.63L355.9 1897.13Z" fill="#1488ff"/>
<path d="M480.4 1930.8L494.9 1946.3L480.4 1961.8L465.9 1946.3Z" fill="#1488ff"/>
<path d="M590.4 1899.88L604.9 1915.38L590.4 1930.88L575.9 1915.38Z" fill="#1488ff"/>
<path d="M700.4 1886.2L714.9 1901.7L700.4 1917.2L685.9 1901.7Z" fill="#1488ff"/>
<path d="M810.4 1835.51L824.9 1851.01L810.4 1866.51L795.9 1851.01Z" fill="#1488ff"/>
<path d="M920.4 1757.44L934.9 1772.94L920.4 1788.44L905.9 1772.94Z" fill="#1488ff"/>
<path d="M1030.4 1720.44L1044.9 1735.94L1030.4 1751.44L1015.9 1735.94Z" fill="#1488ff"/>
<path d="M1140.4 1685.97L1154.9 1701.47L1140.4 1716.97L1125.9 1701.47Z" fill="#1488ff"/>
<path d="M370.4 1923.99 L375.9 1923.98 L381.4 1923.98 L386.9 1923.98 L392.4 1923.98 L397.9 1923.97 L403.4 1923.97 L408.9 1923.97 L414.4 1923.96 L419.9 1923.96 L425.4 1923.95 L430.9 1923.95 L436.4 1923.94 L441.9 1923.93 L447.4 1923.92 L452.9 1923.91 L458.4 1923.9 L463.9 1923.89 L469.4 1923.87 L474.9 1923.86 L480.4 1923.84 L485.9 1923.82 L491.4 1923.79 L496.9 1923.76 L502.4 1923.73 L507.9 1923.7 L513.4 1923.66 L518.9 1923.62 L524.4 1923.57 L529.9 1923.51 L535.4 1923.45 L540.9 1923.38 L546.4 1923.3 L551.9 1923.2 L557.4 1923.1 L562.9 1922.99 L568.4 1922.85 L573.9 1922.71 L579.4 1922.54 L584.9 1922.35 L590.4 1922.14 L595.9 1921.9 L601.4 1921.63 L606.9 1921.32 L612.4 1920.98 L617.9 1920.59 L623.4 1920.15 L628.9 1919.66 L634.4 1919.1 L639.9 1918.48 L645.4 1917.77 L650.9 1916.98 L656.4 1916.09 L661.9 1915.1 L667.4 1913.98 L672.9 1912.72 L678.4 1911.31 L683.9 1909.74 L689.4 1907.98 L694.9 1906.01 L700.4 1903.82 L705.9 1901.38 L711.4 1898.67 L716.9 1895.67 L722.4 1892.35 L727.9 1888.69 L733.4 1884.65 L738.9 1880.23 L744.4 1875.39 L749.9 1870.13 L755.4 1864.41 L760.9 1858.23 L766.4 1851.58 L771.9 1844.47 L777.4 1836.9 L782.9 1828.88 L788.4 1820.44 L793.9 1811.62 L799.4 1802.46 L804.9 1793 L810.4 1783.32 L815.9 1773.47 L821.4 1763.52 L826.9 1753.55 L832.4 1743.63 L837.9 1733.83 L843.4 1724.23 L848.9 1714.89 L854.4 1705.85 L859.9 1697.18 L865.4 1688.91 L870.9 1681.07 L876.4 1673.68 L881.9 1666.75 L887.4 1660.29 L892.9 1654.3 L898.4 1648.76 L903.9 1643.67 L909.4 1639 L914.9 1634.74 L920.4 1630.85 L925.9 1627.33 L931.4 1624.14 L936.9 1621.26 L942.4 1618.66 L947.9 1616.32 L953.4 1614.23 L958.9 1612.35 L964.4 1610.66 L969.9 1609.16 L975.4 1607.81 L980.9 1606.61 L986.4 1605.54 L991.9 1604.59 L997.4 1603.74 L1002.9 1602.98 L1008.4 1602.31 L1013.9 1601.72 L1019.4 1601.19 L1024.9 1600.72 L1030.4 1600.3 L1035.9 1599.93 L1041.4 1599.6 L1046.9 1599.31 L1052.4 1599.05 L1057.9 1598.82 L1063.4 1598.62 L1068.9 1598.44 L1074.4 1598.28 L1079.9 1598.14 L1085.4 1598.02 L1090.9 1597.91 L1096.4 1597.81 L1101.9 1597.72 L1107.4 1597.64 L1112.9 1597.58 L1118.4 1597.51 L1123.9 1597.46 L1129.4 1597.41 L1134.9 1597.37 L1140.4 1597.34" stroke="#c000e8" stroke-width="5" fill="none" stroke-linejoin="round"/>
<path d="M480.4 1849.49V1942.76" stroke="#c000e8" stroke-width="3.7" fill="none"/>
<path d="M810.4 1753.68V1804.37" stroke="#c000e8" stroke-width="3.7" fill="none"/>
<path d="M920.4 1634.56V1670.04" stroke="#c000e8" stroke-width="3.7" fill="none"/>
<path d="M370.4 1926.23L385 1954.73H355.8Z" fill="#c000e8"/>
<path d="M480.4 1881.62L495 1910.12H465.8Z" fill="#c000e8"/>
<path d="M590.4 1925.72L605 1954.22H575.8Z" fill="#c000e8"/>
<path d="M700.4 1901.9L715 1930.4H685.8Z" fill="#c000e8"/>
<path d="M810.4 1764.53L825 1793.03H795.8Z" fill="#c000e8"/>
<path d="M920.4 1637.8L935 1666.3H905.8Z" fill="#c000e8"/>
<path d="M1030.4 1597.76L1045 1626.26H1015.8Z" fill="#c000e8"/>
<path d="M1140.4 1574.44L1155 1602.94H1125.8Z" fill="#c000e8"/>
<path d="M370.4 1923.96 L375.9 1923.95 L381.4 1923.95 L386.9 1923.94 L392.4 1923.93 L397.9 1923.92 L403.4 1923.91 L408.9 1923.9 L414.4 1923.89 L419.9 1923.87 L425.4 1923.86 L430.9 1923.84 L436.4 1923.82 L441.9 1923.8 L447.4 1923.77 L452.9 1923.74 L458.4 1923.71 L463.9 1923.67 L469.4 1923.63 L474.9 1923.58 L480.4 1923.52 L485.9 1923.46 L491.4 1923.39 L496.9 1923.31 L502.4 1923.23 L507.9 1923.13 L513.4 1923.02 L518.9 1922.89 L524.4 1922.75 L529.9 1922.59 L535.4 1922.41 L540.9 1922.2 L546.4 1921.97 L551.9 1921.71 L557.4 1921.42 L562.9 1921.09 L568.4 1920.72 L573.9 1920.3 L579.4 1919.83 L584.9 1919.3 L590.4 1918.7 L595.9 1918.03 L601.4 1917.27 L606.9 1916.42 L612.4 1915.46 L617.9 1914.38 L623.4 1913.17 L628.9 1911.82 L634.4 1910.29 L639.9 1908.59 L645.4 1906.67 L650.9 1904.53 L656.4 1902.14 L661.9 1899.47 L667.4 1896.48 L672.9 1893.16 L678.4 1889.47 L683.9 1885.37 L689.4 1880.83 L694.9 1875.81 L700.4 1870.28 L705.9 1864.19 L711.4 1857.51 L716.9 1850.21 L722.4 1842.26 L727.9 1833.63 L733.4 1824.3 L738.9 1814.26 L744.4 1803.51 L749.9 1792.06 L755.4 1779.92 L760.9 1767.14 L766.4 1753.75 L771.9 1739.82 L777.4 1725.43 L782.9 1710.65 L788.4 1695.59 L793.9 1680.35 L799.4 1665.04 L804.9 1649.76 L810.4 1634.64 L815.9 1619.77 L821.4 1605.26 L826.9 1591.2 L832.4 1577.65 L837.9 1564.69 L843.4 1552.37 L848.9 1540.73 L854.4 1529.78 L859.9 1519.54 L865.4 1510.01 L870.9 1501.19 L876.4 1493.05 L881.9 1485.57 L887.4 1478.72 L892.9 1472.47 L898.4 1466.78 L903.9 1461.62 L909.4 1456.95 L914.9 1452.73 L920.4 1448.93 L925.9 1445.51 L931.4 1442.44 L936.9 1439.68 L942.4 1437.21 L947.9 1435 L953.4 1433.03 L958.9 1431.26 L964.4 1429.69 L969.9 1428.29 L975.4 1427.04 L980.9 1425.93 L986.4 1424.94 L991.9 1424.06 L997.4 1423.28 L1002.9 1422.58 L1008.4 1421.96 L1013.9 1421.41 L1019.4 1420.93 L1024.9 1420.49 L1030.4 1420.11 L1035.9 1419.77 L1041.4 1419.47 L1046.9 1419.2 L1052.4 1418.96 L1057.9 1418.75 L1063.4 1418.56 L1068.9 1418.4 L1074.4 1418.25 L1079.9 1418.12 L1085.4 1418 L1090.9 1417.9 L1096.4 1417.81 L1101.9 1417.73 L1107.4 1417.66 L1112.9 1417.59 L1118.4 1417.54 L1123.9 1417.49 L1129.4 1417.44 L1134.9 1417.4 L1140.4 1417.37" stroke="#0000ff" stroke-width="5" fill="none" stroke-linejoin="round"/>
<path d="M810.4 1608.71V1669.54" stroke="#0000ff" stroke-width="3.7" fill="none"/>
<path d="M700.4 1830.73V1876.35" stroke="#0000ff" stroke-width="3.7" fill="none"/>
<path d="M480.4 1853.54V1938.7" stroke="#0000ff" stroke-width="3.7" fill="none"/>
<circle cx="370.4" cy="1934.14" r="15" fill="#0000ff"/>
<circle cx="480.4" cy="1896.12" r="15" fill="#0000ff"/>
<circle cx="590.4" cy="1947.32" r="15" fill="#0000ff"/>
<circle cx="700.4" cy="1853.54" r="15" fill="#0000ff"/>
<circle cx="810.4" cy="1639.12" r="15" fill="#0000ff"/>
<circle cx="920.4" cy="1492.63" r="15" fill="#0000ff"/>
<circle cx="1030.4" cy="1422.17" r="15" fill="#0000ff"/>
<circle cx="1140.4" cy="1395.81" r="15" fill="#0000ff"/>
<text x="224" y="1942" font-size="50" font-weight="bold" text-anchor="end" fill="#000" >0</text>
<text x="224" y="1688.55" font-size="50" font-weight="bold" text-anchor="end" fill="#000" >50</text>
<text x="224" y="1433.6" font-size="50" font-weight="bold" text-anchor="end" fill="#000" >100</text>
<text x="258.4" y="2030.3" font-size="50" font-weight="bold" text-anchor="middle">10<tspan font-size="32" dy="-15" dx="4.5">-12</tspan></text>
<text x="478.4" y="2030.3" font-size="50" font-weight="bold" text-anchor="middle">10<tspan font-size="32" dy="-15" dx="4.5">-10</tspan></text>
<text x="698.4" y="2030.3" font-size="50" font-weight="bold" text-anchor="middle">10<tspan font-size="32" dy="-15" dx="4.5">-8</tspan></text>
<text x="918.4" y="2030.3" font-size="50" font-weight="bold" text-anchor="middle">10<tspan font-size="32" dy="-15" dx="4.5">-6</tspan></text>
<text x="1138.4" y="2030.3" font-size="50" font-weight="bold" text-anchor="middle">10<tspan font-size="32" dy="-15" dx="4.5">-4</tspan></text>
<text x="575.3" y="2104.7" font-size="53" font-weight="bold" text-anchor="start" fill="#000" textLength="355.8" lengthAdjust="spacingAndGlyphs" >Dopamine (M)</text>
<text transform="translate(110.5 1912) rotate(-90)" font-size="59.5" font-weight="bold" textLength="582.8" lengthAdjust="spacingAndGlyphs" xml:space="preserve" stroke="#fff" stroke-width="1.8">BRET Ratio (% DMSO)</text>
<text x="1288.8" y="1334.3" font-size="55" font-weight="normal" text-anchor="start" fill="#000" textLength="394.4" lengthAdjust="spacingAndGlyphs" >+ Compound101</text>
<path d="M1288.5 1338.6H1691.9" stroke="#000" stroke-width="3.4" fill="none"/>
<path d="M1313.5 1421.7H1377.9" stroke="#0000ff" stroke-width="5.5" stroke-linecap="round" fill="none"/>
<circle cx="1345.7" cy="1421.7" r="15" fill="#0000ff"/>
<text x="1418.5" y="1435.7" font-size="54" font-weight="normal" text-anchor="start" fill="#000" textLength="158" lengthAdjust="spacingAndGlyphs" xml:space="preserve">DMSO</text>
<path d="M1313.5 1514.4H1377.9" stroke="#c000e8" stroke-width="5.5" stroke-linecap="round" fill="none"/>
<path d="M1345.7 1499.9L1360.3 1528.4H1331.1Z" fill="#c000e8"/>
<text x="1419.5" y="1531.8" font-size="54" font-weight="normal" text-anchor="start" fill="#000" xml:space="preserve">+ 0.3 <tspan dx="3" font-family='"Liberation Serif", "DejaVu Serif", serif' font-size="60">μ</tspan><tspan dx="1">M</tspan></text>
<path d="M1317.2 1609.2H1381.6" stroke="#1488ff" stroke-width="5.5" stroke-linecap="round" fill="none"/>
<path d="M1349.4 1593.7L1363.9 1609.2L1349.4 1624.7L1334.9 1609.2Z" fill="#1488ff"/>
<text x="1421" y="1627.6" font-size="54" font-weight="normal" text-anchor="start" fill="#000" xml:space="preserve">+ 1 <tspan dx="3" font-family='"Liberation Serif", "DejaVu Serif", serif' font-size="60">μ</tspan><tspan dx="1">M</tspan></text>
<path d="M1317.2 1701.6H1381.6" stroke="#000080" stroke-width="5.5" stroke-linecap="round" fill="none"/>
<rect x="1334.9" y="1687.1" width="29" height="29" fill="#000080"/>
<text x="1421" y="1719" font-size="54" font-weight="normal" text-anchor="start" fill="#000" xml:space="preserve">+ 3 <tspan dx="3" font-family='"Liberation Serif", "DejaVu Serif", serif' font-size="60">μ</tspan><tspan dx="1">M</tspan></text>
<path d="M1317.2 1792.7H1381.6" stroke="#00ff80" stroke-width="5.5" stroke-linecap="round" fill="none"/>
<polygon points="1349.4,1780.3 1352.93,1789.05 1362.33,1789.7 1355.11,1795.75 1357.39,1804.9 1349.4,1799.9 1341.41,1804.9 1343.69,1795.75 1336.47,1789.7 1345.87,1789.05" fill="#00ff80"/>
<text x="1421" y="1810.8" font-size="54" font-weight="normal" text-anchor="start" fill="#000" xml:space="preserve">+ 10 <tspan dx="3" font-family='"Liberation Serif", "DejaVu Serif", serif' font-size="60">μ</tspan><tspan dx="1">M</tspan></text>
<path d="M1317.2 1884.7H1381.6" stroke="#803400" stroke-width="5.5" stroke-linecap="round" fill="none"/>
<path d="M1336.9 1884.7H1361.9M1349.4 1872.7V1896.7" stroke="#803400" stroke-width="4.5" fill="none"/>
<text x="1421" y="1902.2" font-size="54" font-weight="normal" text-anchor="start" fill="#000" xml:space="preserve">+ 100 <tspan dx="3" font-family='"Liberation Serif", "DejaVu Serif", serif' font-size="60">μ</tspan><tspan dx="1">M</tspan></text>
</g>
<g>
<text x="43.3" y="2290.7" font-size="114" font-weight="bold" text-anchor="start" fill="#000" textLength="76.4" lengthAdjust="spacingAndGlyphs" stroke="#fff" stroke-width="2.4">C</text>
<text x="568" y="2271.9" font-size="62" font-weight="bold" text-anchor="start" fill="#000" textLength="367.7" lengthAdjust="spacingAndGlyphs" stroke="#fff" stroke-width="0.7">GRK2 BRET</text>
<path d="M276.4 3005.3H1232.5" stroke="#000" stroke-width="6.2" stroke-linecap="round" stroke-dasharray="0 19.83" fill="none"/>
<rect x="253.9" y="2370" width="990.6" height="661.5" fill="none" stroke="#000" stroke-width="6.8"/>
<path d="M228.4 3004.5H253.9M228.4 2751.3H253.9M228.4 2498.1H253.9M253.9 3031.5V3058M473.9 3031.5V3058M693.9 3031.5V3058M913.9 3031.5V3058M1133.9 3031.5V3058" stroke="#000" stroke-width="5.9" fill="none"/>
<path d="M363.9 3006.02 L369.4 3006.01 L374.9 3006.01 L380.4 3006.01 L385.9 3006.01 L391.4 3006.01 L396.9 3006.01 L402.4 3006.01 L407.9 3006.01 L413.4 3006.01 L418.9 3006.01 L424.4 3006.01 L429.9 3006 L435.4 3006 L440.9 3006 L446.4 3006 L451.9 3005.99 L457.4 3005.99 L462.9 3005.99 L468.4 3005.98 L473.9 3005.98 L479.4 3005.97 L484.9 3005.97 L490.4 3005.96 L495.9 3005.96 L501.4 3005.95 L506.9 3005.94 L512.4 3005.93 L517.9 3005.92 L523.4 3005.91 L528.9 3005.89 L534.4 3005.88 L539.9 3005.86 L545.4 3005.84 L550.9 3005.82 L556.4 3005.8 L561.9 3005.77 L567.4 3005.74 L572.9 3005.7 L578.4 3005.67 L583.9 3005.62 L589.4 3005.58 L594.9 3005.52 L600.4 3005.46 L605.9 3005.39 L611.4 3005.32 L616.9 3005.23 L622.4 3005.14 L627.9 3005.03 L633.4 3004.91 L638.9 3004.77 L644.4 3004.62 L649.9 3004.45 L655.4 3004.26 L660.9 3004.05 L666.4 3003.82 L671.9 3003.55 L677.4 3003.25 L682.9 3002.92 L688.4 3002.55 L693.9 3002.14 L699.4 3001.68 L704.9 3001.16 L710.4 3000.59 L715.9 2999.95 L721.4 2999.23 L726.9 2998.44 L732.4 2997.56 L737.9 2996.58 L743.4 2995.5 L748.9 2994.3 L754.4 2992.98 L759.9 2991.52 L765.4 2989.91 L770.9 2988.14 L776.4 2986.2 L781.9 2984.08 L787.4 2981.77 L792.9 2979.26 L798.4 2976.54 L803.9 2973.6 L809.4 2970.44 L814.9 2967.05 L820.4 2963.44 L825.9 2959.6 L831.4 2955.55 L836.9 2951.29 L842.4 2946.85 L847.9 2942.22 L853.4 2937.45 L858.9 2932.55 L864.4 2927.56 L869.9 2922.49 L875.4 2917.4 L880.9 2912.3 L886.4 2907.24 L891.9 2902.25 L897.4 2897.35 L902.9 2892.57 L908.4 2887.95 L913.9 2883.5 L919.4 2879.25 L924.9 2875.2 L930.4 2871.36 L935.9 2867.75 L941.4 2864.36 L946.9 2861.2 L952.4 2858.26 L957.9 2855.54 L963.4 2853.03 L968.9 2850.72 L974.4 2848.6 L979.9 2846.66 L985.4 2844.89 L990.9 2843.28 L996.4 2841.82 L1001.9 2840.5 L1007.4 2839.3 L1012.9 2838.22 L1018.4 2837.24 L1023.9 2836.36 L1029.4 2835.57 L1034.9 2834.85 L1040.4 2834.21 L1045.9 2833.64 L1051.4 2833.12 L1056.9 2832.66 L1062.4 2832.25 L1067.9 2831.88 L1073.4 2831.54 L1078.9 2831.25 L1084.4 2830.98 L1089.9 2830.75 L1095.4 2830.53 L1100.9 2830.34 L1106.4 2830.18 L1111.9 2830.03 L1117.4 2829.89 L1122.9 2829.77 L1128.4 2829.66 L1133.9 2829.57" stroke="#b06414" stroke-width="5" fill="none" stroke-linejoin="round"/>
<path d="M913.9 2869.8V2895.12" stroke="#b06414" stroke-width="3.7" fill="none"/>
<path d="M351.4 3007.03H376.4M363.9 2995.03V3019.03" stroke="#b06414" stroke-width="4.5" fill="none"/>
<path d="M461.4 3007.03H486.4M473.9 2995.03V3019.03" stroke="#b06414" stroke-width="4.5" fill="none"/>
<path d="M571.4 3004.5H596.4M583.9 2992.5V3016.5" stroke="#b06414" stroke-width="4.5" fill="none"/>
<path d="M681.4 3001.97H706.4M693.9 2989.97V3013.97" stroke="#b06414" stroke-width="4.5" fill="none"/>
<path d="M791.4 2965H816.4M803.9 2953V2977" stroke="#b06414" stroke-width="4.5" fill="none"/>
<path d="M901.4 2882.46H926.4M913.9 2870.46V2894.46" stroke="#b06414" stroke-width="4.5" fill="none"/>
<path d="M1011.4 2838.91H1036.4M1023.9 2826.91V2850.91" stroke="#b06414" stroke-width="4.5" fill="none"/>
<path d="M1121.4 2831.31H1146.4M1133.9 2819.31V2843.31" stroke="#b06414" stroke-width="4.5" fill="none"/>
<path d="M363.9 3006.01 L369.4 3006.01 L374.9 3006.01 L380.4 3006.01 L385.9 3006 L391.4 3006 L396.9 3006 L402.4 3006 L407.9 3006 L413.4 3005.99 L418.9 3005.99 L424.4 3005.99 L429.9 3005.98 L435.4 3005.98 L440.9 3005.97 L446.4 3005.97 L451.9 3005.96 L457.4 3005.96 L462.9 3005.95 L468.4 3005.94 L473.9 3005.93 L479.4 3005.92 L484.9 3005.91 L490.4 3005.9 L495.9 3005.88 L501.4 3005.87 L506.9 3005.85 L512.4 3005.83 L517.9 3005.81 L523.4 3005.78 L528.9 3005.75 L534.4 3005.72 L539.9 3005.69 L545.4 3005.65 L550.9 3005.61 L556.4 3005.56 L561.9 3005.5 L567.4 3005.44 L572.9 3005.38 L578.4 3005.3 L583.9 3005.22 L589.4 3005.13 L594.9 3005.02 L600.4 3004.91 L605.9 3004.78 L611.4 3004.63 L616.9 3004.47 L622.4 3004.29 L627.9 3004.09 L633.4 3003.87 L638.9 3003.62 L644.4 3003.35 L649.9 3003.04 L655.4 3002.7 L660.9 3002.32 L666.4 3001.89 L671.9 3001.42 L677.4 3000.9 L682.9 3000.32 L688.4 2999.67 L693.9 2998.96 L699.4 2998.16 L704.9 2997.29 L710.4 2996.32 L715.9 2995.25 L721.4 2994.06 L726.9 2992.76 L732.4 2991.33 L737.9 2989.75 L743.4 2988.03 L748.9 2986.13 L754.4 2984.07 L759.9 2981.82 L765.4 2979.38 L770.9 2976.73 L776.4 2973.87 L781.9 2970.78 L787.4 2967.47 L792.9 2963.93 L798.4 2960.16 L803.9 2956.16 L809.4 2951.94 L814.9 2947.5 L820.4 2942.86 L825.9 2938.03 L831.4 2933.04 L836.9 2927.9 L842.4 2922.65 L847.9 2917.3 L853.4 2911.9 L858.9 2906.47 L864.4 2901.06 L869.9 2895.68 L875.4 2890.37 L880.9 2885.17 L886.4 2880.1 L891.9 2875.18 L897.4 2870.44 L902.9 2865.9 L908.4 2861.56 L913.9 2857.45 L919.4 2853.56 L924.9 2849.9 L930.4 2846.47 L935.9 2843.27 L941.4 2840.29 L946.9 2837.53 L952.4 2834.98 L957.9 2832.63 L963.4 2830.47 L968.9 2828.49 L974.4 2826.68 L979.9 2825.03 L985.4 2823.52 L990.9 2822.15 L996.4 2820.91 L1001.9 2819.78 L1007.4 2818.76 L1012.9 2817.84 L1018.4 2817 L1023.9 2816.25 L1029.4 2815.57 L1034.9 2814.95 L1040.4 2814.4 L1045.9 2813.9 L1051.4 2813.45 L1056.9 2813.05 L1062.4 2812.69 L1067.9 2812.36 L1073.4 2812.07 L1078.9 2811.81 L1084.4 2811.57 L1089.9 2811.36 L1095.4 2811.17 L1100.9 2811 L1106.4 2810.85 L1111.9 2810.71 L1117.4 2810.59 L1122.9 2810.48 L1128.4 2810.38 L1133.9 2810.29" stroke="#005a1e" stroke-width="5" fill="none" stroke-linejoin="round"/>
<path d="M351.9 2995.03L375.9 3019.03M375.9 2995.03L351.9 3019.03" stroke="#005a1e" stroke-width="6" fill="none"/>
<path d="M461.9 2995.03L485.9 3019.03M485.9 2995.03L461.9 3019.03" stroke="#005a1e" stroke-width="6" fill="none"/>
<path d="M571.9 2992.5L595.9 3016.5M595.9 2992.5L571.9 3016.5" stroke="#005a1e" stroke-width="6" fill="none"/>
<path d="M681.9 2987.94L705.9 3011.94M705.9 2987.94L681.9 3011.94" stroke="#005a1e" stroke-width="6" fill="none"/>
<path d="M791.9 2941.35L815.9 2965.35M815.9 2941.35L791.9 2965.35" stroke="#005a1e" stroke-width="6" fill="none"/>
<path d="M901.9 2848.18L925.9 2872.18M925.9 2848.18L901.9 2872.18" stroke="#005a1e" stroke-width="6" fill="none"/>
<path d="M1011.9 2802.6L1035.9 2826.6M1035.9 2802.6L1011.9 2826.6" stroke="#005a1e" stroke-width="6" fill="none"/>
<path d="M1121.9 2799.06L1145.9 2823.06M1145.9 2799.06L1121.9 2823.06" stroke="#005a1e" stroke-width="6" fill="none"/>
<path d="M363.9 3006.01 L369.4 3006.01 L374.9 3006.01 L380.4 3006.01 L385.9 3006.01 L391.4 3006.01 L396.9 3006.01 L402.4 3006 L407.9 3006 L413.4 3006 L418.9 3006 L424.4 3005.99 L429.9 3005.99 L435.4 3005.99 L440.9 3005.98 L446.4 3005.98 L451.9 3005.98 L457.4 3005.97 L462.9 3005.96 L468.4 3005.96 L473.9 3005.95 L479.4 3005.94 L484.9 3005.93 L490.4 3005.92 L495.9 3005.91 L501.4 3005.9 L506.9 3005.88 L512.4 3005.87 L517.9 3005.85 L523.4 3005.83 L528.9 3005.8 L534.4 3005.78 L539.9 3005.75 L545.4 3005.71 L550.9 3005.67 L556.4 3005.63 L561.9 3005.59 L567.4 3005.53 L572.9 3005.47 L578.4 3005.41 L583.9 3005.33 L589.4 3005.25 L594.9 3005.16 L600.4 3005.05 L605.9 3004.93 L611.4 3004.8 L616.9 3004.65 L622.4 3004.49 L627.9 3004.3 L633.4 3004.1 L638.9 3003.86 L644.4 3003.6 L649.9 3003.31 L655.4 3002.99 L660.9 3002.62 L666.4 3002.21 L671.9 3001.76 L677.4 3001.25 L682.9 3000.68 L688.4 3000.05 L693.9 2999.34 L699.4 2998.56 L704.9 2997.68 L710.4 2996.71 L715.9 2995.62 L721.4 2994.42 L726.9 2993.09 L732.4 2991.62 L737.9 2989.99 L743.4 2988.19 L748.9 2986.21 L754.4 2984.04 L759.9 2981.65 L765.4 2979.04 L770.9 2976.2 L776.4 2973.11 L781.9 2969.76 L787.4 2966.14 L792.9 2962.24 L798.4 2958.07 L803.9 2953.61 L809.4 2948.89 L814.9 2943.89 L820.4 2938.64 L825.9 2933.15 L831.4 2927.44 L836.9 2921.55 L842.4 2915.5 L847.9 2909.32 L853.4 2903.07 L858.9 2896.76 L864.4 2890.46 L869.9 2884.19 L875.4 2878 L880.9 2871.94 L886.4 2866.02 L891.9 2860.29 L897.4 2854.77 L902.9 2849.49 L908.4 2844.47 L913.9 2839.71 L919.4 2835.22 L924.9 2831.01 L930.4 2827.08 L935.9 2823.43 L941.4 2820.05 L946.9 2816.93 L952.4 2814.05 L957.9 2811.42 L963.4 2809.01 L968.9 2806.81 L974.4 2804.81 L979.9 2802.99 L985.4 2801.34 L990.9 2799.85 L996.4 2798.5 L1001.9 2797.28 L1007.4 2796.19 L1012.9 2795.2 L1018.4 2794.31 L1023.9 2793.51 L1029.4 2792.8 L1034.9 2792.16 L1040.4 2791.58 L1045.9 2791.07 L1051.4 2790.61 L1056.9 2790.19 L1062.4 2789.82 L1067.9 2789.49 L1073.4 2789.2 L1078.9 2788.93 L1084.4 2788.7 L1089.9 2788.49 L1095.4 2788.3 L1100.9 2788.13 L1106.4 2787.98 L1111.9 2787.85 L1117.4 2787.73 L1122.9 2787.62 L1128.4 2787.53 L1133.9 2787.44" stroke="#14f0a0" stroke-width="5" fill="none" stroke-linejoin="round"/>
<polygon points="363.9,2994.63 367.43,3003.38 376.83,3004.03 369.61,3010.09 371.89,3019.23 363.9,3014.23 355.91,3019.23 358.19,3010.09 350.97,3004.03 360.37,3003.38" fill="#14f0a0"/>
<polygon points="473.9,2993.62 477.43,3002.37 486.83,3003.02 479.61,3009.07 481.89,3018.22 473.9,3013.22 465.91,3018.22 468.19,3009.07 460.97,3003.02 470.37,3002.37" fill="#14f0a0"/>
<polygon points="583.9,2989.57 587.43,2998.31 596.83,2998.97 589.61,3005.02 591.89,3014.17 583.9,3009.17 575.91,3014.17 578.19,3005.02 570.97,2998.97 580.37,2998.31" fill="#14f0a0"/>
<polygon points="693.9,2984.5 697.43,2993.25 706.83,2993.9 699.61,2999.96 701.89,3009.11 693.9,3004.1 685.91,3009.11 688.19,2999.96 680.97,2993.9 690.37,2993.25" fill="#14f0a0"/>
<polygon points="803.9,2933.86 807.43,2942.61 816.83,2943.26 809.61,2949.32 811.89,2958.47 803.9,2953.46 795.91,2958.47 798.19,2949.32 790.97,2943.26 800.37,2942.61" fill="#14f0a0"/>
<polygon points="913.9,2832.58 917.43,2841.33 926.83,2841.98 919.61,2848.04 921.89,2857.19 913.9,2852.18 905.91,2857.19 908.19,2848.04 900.97,2841.98 910.37,2841.33" fill="#14f0a0"/>
<polygon points="1023.9,2779.92 1027.43,2788.66 1036.83,2789.32 1029.61,2795.37 1031.89,2804.52 1023.9,2799.52 1015.91,2804.52 1018.19,2795.37 1010.97,2789.32 1020.37,2788.66" fill="#14f0a0"/>
<polygon points="1133.9,2768.27 1137.43,2777.02 1146.83,2777.67 1139.61,2783.73 1141.89,2792.87 1133.9,2787.87 1125.91,2792.87 1128.19,2783.73 1120.97,2777.67 1130.37,2777.02" fill="#14f0a0"/>
<path d="M363.9 3006.01 L369.4 3006.01 L374.9 3006.01 L380.4 3006.01 L385.9 3006 L391.4 3006 L396.9 3006 L402.4 3006 L407.9 3005.99 L413.4 3005.99 L418.9 3005.99 L424.4 3005.98 L429.9 3005.98 L435.4 3005.97 L440.9 3005.97 L446.4 3005.96 L451.9 3005.96 L457.4 3005.95 L462.9 3005.94 L468.4 3005.93 L473.9 3005.92 L479.4 3005.91 L484.9 3005.89 L490.4 3005.88 L495.9 3005.86 L501.4 3005.84 L506.9 3005.82 L512.4 3005.79 L517.9 3005.77 L523.4 3005.74 L528.9 3005.7 L534.4 3005.66 L539.9 3005.62 L545.4 3005.57 L550.9 3005.52 L556.4 3005.46 L561.9 3005.39 L567.4 3005.31 L572.9 3005.22 L578.4 3005.13 L583.9 3005.02 L589.4 3004.9 L594.9 3004.76 L600.4 3004.61 L605.9 3004.44 L611.4 3004.24 L616.9 3004.03 L622.4 3003.79 L627.9 3003.52 L633.4 3003.22 L638.9 3002.88 L644.4 3002.5 L649.9 3002.08 L655.4 3001.61 L660.9 3001.08 L666.4 3000.49 L671.9 2999.83 L677.4 2999.09 L682.9 2998.27 L688.4 2997.36 L693.9 2996.34 L699.4 2995.21 L704.9 2993.95 L710.4 2992.55 L715.9 2991 L721.4 2989.28 L726.9 2987.38 L732.4 2985.29 L737.9 2982.98 L743.4 2980.44 L748.9 2977.65 L754.4 2974.6 L759.9 2971.27 L765.4 2967.65 L770.9 2963.71 L776.4 2959.46 L781.9 2954.87 L787.4 2949.95 L792.9 2944.7 L798.4 2939.11 L803.9 2933.19 L809.4 2926.95 L814.9 2920.42 L820.4 2913.62 L825.9 2906.58 L831.4 2899.33 L836.9 2891.92 L842.4 2884.4 L847.9 2876.8 L853.4 2869.18 L858.9 2861.58 L864.4 2854.07 L869.9 2846.69 L875.4 2839.47 L880.9 2832.46 L886.4 2825.71 L891.9 2819.22 L897.4 2813.04 L902.9 2807.17 L908.4 2801.63 L913.9 2796.43 L919.4 2791.56 L924.9 2787.03 L930.4 2782.83 L935.9 2778.94 L941.4 2775.37 L946.9 2772.08 L952.4 2769.07 L957.9 2766.33 L963.4 2763.83 L968.9 2761.55 L974.4 2759.49 L979.9 2757.62 L985.4 2755.93 L990.9 2754.41 L996.4 2753.03 L1001.9 2751.79 L1007.4 2750.68 L1012.9 2749.68 L1018.4 2748.78 L1023.9 2747.97 L1029.4 2747.25 L1034.9 2746.6 L1040.4 2746.02 L1045.9 2745.51 L1051.4 2745.04 L1056.9 2744.63 L1062.4 2744.25 L1067.9 2743.92 L1073.4 2743.63 L1078.9 2743.36 L1084.4 2743.13 L1089.9 2742.91 L1095.4 2742.73 L1100.9 2742.56 L1106.4 2742.41 L1111.9 2742.27 L1117.4 2742.15 L1122.9 2742.05 L1128.4 2741.95 L1133.9 2741.87" stroke="#000080" stroke-width="5" fill="none" stroke-linejoin="round"/>
<rect x="349.4" y="2994.05" width="29" height="29" fill="#000080"/>
<rect x="459.4" y="2994.05" width="29" height="29" fill="#000080"/>
<rect x="569.4" y="2988.48" width="29" height="29" fill="#000080"/>
<rect x="679.4" y="2980.88" width="29" height="29" fill="#000080"/>
<rect x="789.4" y="2909.99" width="29" height="29" fill="#000080"/>
<rect x="899.4" y="2792" width="29" height="29" fill="#000080"/>
<rect x="1009.4" y="2733.76" width="29" height="29" fill="#000080"/>
<rect x="1119.4" y="2726.67" width="29" height="29" fill="#000080"/>
<path d="M363.9 3006.01 L369.4 3006 L374.9 3006 L380.4 3006 L385.9 3006 L391.4 3006 L396.9 3005.99 L402.4 3005.99 L407.9 3005.99 L413.4 3005.98 L418.9 3005.98 L424.4 3005.97 L429.9 3005.97 L435.4 3005.96 L440.9 3005.95 L446.4 3005.94 L451.9 3005.93 L457.4 3005.92 L462.9 3005.91 L468.4 3005.9 L473.9 3005.88 L479.4 3005.87 L484.9 3005.85 L490.4 3005.82 L495.9 3005.8 L501.4 3005.77 L506.9 3005.74 L512.4 3005.71 L517.9 3005.67 L523.4 3005.63 L528.9 3005.58 L534.4 3005.52 L539.9 3005.46 L545.4 3005.39 L550.9 3005.31 L556.4 3005.22 L561.9 3005.12 L567.4 3005.01 L572.9 3004.89 L578.4 3004.75 L583.9 3004.59 L589.4 3004.41 L594.9 3004.21 L600.4 3003.99 L605.9 3003.74 L611.4 3003.46 L616.9 3003.14 L622.4 3002.78 L627.9 3002.38 L633.4 3001.94 L638.9 3001.44 L644.4 3000.87 L649.9 3000.24 L655.4 2999.54 L660.9 2998.75 L666.4 2997.86 L671.9 2996.87 L677.4 2995.76 L682.9 2994.53 L688.4 2993.15 L693.9 2991.62 L699.4 2989.91 L704.9 2988 L710.4 2985.89 L715.9 2983.55 L721.4 2980.95 L726.9 2978.08 L732.4 2974.91 L737.9 2971.43 L743.4 2967.6 L748.9 2963.41 L754.4 2958.83 L759.9 2953.84 L765.4 2948.43 L770.9 2942.58 L776.4 2936.28 L781.9 2929.53 L787.4 2922.32 L792.9 2914.66 L798.4 2906.58 L803.9 2898.08 L809.4 2889.21 L814.9 2880 L820.4 2870.49 L825.9 2860.75 L831.4 2850.83 L836.9 2840.8 L842.4 2830.72 L847.9 2820.67 L853.4 2810.71 L858.9 2800.91 L864.4 2791.34 L869.9 2782.04 L875.4 2773.07 L880.9 2764.46 L886.4 2756.26 L891.9 2748.48 L897.4 2741.15 L902.9 2734.26 L908.4 2727.84 L913.9 2721.86 L919.4 2716.33 L924.9 2711.23 L930.4 2706.53 L935.9 2702.24 L941.4 2698.31 L946.9 2694.73 L952.4 2691.48 L957.9 2688.52 L963.4 2685.85 L968.9 2683.44 L974.4 2681.27 L979.9 2679.31 L985.4 2677.54 L990.9 2675.96 L996.4 2674.54 L1001.9 2673.27 L1007.4 2672.13 L1012.9 2671.11 L1018.4 2670.19 L1023.9 2669.38 L1029.4 2668.65 L1034.9 2668 L1040.4 2667.42 L1045.9 2666.9 L1051.4 2666.43 L1056.9 2666.02 L1062.4 2665.66 L1067.9 2665.33 L1073.4 2665.04 L1078.9 2664.78 L1084.4 2664.55 L1089.9 2664.34 L1095.4 2664.16 L1100.9 2663.99 L1106.4 2663.85 L1111.9 2663.72 L1117.4 2663.61 L1122.9 2663.5 L1128.4 2663.41 L1133.9 2663.33" stroke="#1e96ff" stroke-width="5" fill="none" stroke-linejoin="round"/>
<path d="M363.9 3021.33L377.9 2992.83H349.9Z" fill="#1e96ff"/>
<path d="M473.9 3021.33L487.9 2992.83H459.9Z" fill="#1e96ff"/>
<path d="M583.9 3016.27L597.9 2987.77H569.9Z" fill="#1e96ff"/>
<path d="M693.9 2993.48L707.9 2964.98H679.9Z" fill="#1e96ff"/>
<path d="M803.9 2899.8L817.9 2871.3H789.9Z" fill="#1e96ff"/>
<path d="M913.9 2759.02L927.9 2730.52H899.9Z" fill="#1e96ff"/>
<path d="M1023.9 2682.55L1037.9 2654.05H1009.9Z" fill="#1e96ff"/>
<path d="M1133.9 2672.42L1147.9 2643.92H1119.9Z" fill="#1e96ff"/>
<path d="M363.9 3007 L369.4 3007 L374.9 3007 L380.4 3006.99 L385.9 3006.99 L391.4 3006.98 L396.9 3006.97 L402.4 3006.97 L407.9 3006.96 L413.4 3006.95 L418.9 3006.94 L424.4 3006.93 L429.9 3006.92 L435.4 3006.9 L440.9 3006.88 L446.4 3006.87 L451.9 3006.84 L457.4 3006.82 L462.9 3006.79 L468.4 3006.76 L473.9 3006.73 L479.4 3006.69 L484.9 3006.65 L490.4 3006.6 L495.9 3006.55 L501.4 3006.49 L506.9 3006.42 L512.4 3006.34 L517.9 3006.26 L523.4 3006.16 L528.9 3006.05 L534.4 3005.93 L539.9 3005.79 L545.4 3005.63 L550.9 3005.45 L556.4 3005.26 L561.9 3005.03 L567.4 3004.78 L572.9 3004.5 L578.4 3004.18 L583.9 3003.83 L589.4 3003.43 L594.9 3002.98 L600.4 3002.47 L605.9 3001.9 L611.4 3001.26 L616.9 3000.55 L622.4 2999.74 L627.9 2998.84 L633.4 2997.83 L638.9 2996.69 L644.4 2995.42 L649.9 2993.99 L655.4 2992.4 L660.9 2990.62 L666.4 2988.63 L671.9 2986.4 L677.4 2983.92 L682.9 2981.16 L688.4 2978.09 L693.9 2974.68 L699.4 2970.9 L704.9 2966.71 L710.4 2962.09 L715.9 2956.99 L721.4 2951.38 L726.9 2945.23 L732.4 2938.5 L737.9 2931.17 L743.4 2923.2 L748.9 2914.57 L754.4 2905.27 L759.9 2895.28 L765.4 2884.61 L770.9 2873.27 L776.4 2861.28 L781.9 2848.67 L787.4 2835.48 L792.9 2821.78 L798.4 2807.65 L803.9 2793.14 L809.4 2778.38 L814.9 2763.44 L820.4 2748.43 L825.9 2733.46 L831.4 2718.63 L836.9 2704.05 L842.4 2689.8 L847.9 2675.97 L853.4 2662.63 L858.9 2649.86 L864.4 2637.69 L869.9 2626.16 L875.4 2615.3 L880.9 2605.12 L886.4 2595.63 L891.9 2586.82 L897.4 2578.66 L902.9 2571.15 L908.4 2564.26 L913.9 2557.95 L919.4 2552.19 L924.9 2546.95 L930.4 2542.2 L935.9 2537.89 L941.4 2534 L946.9 2530.49 L952.4 2527.33 L957.9 2524.48 L963.4 2521.93 L968.9 2519.64 L974.4 2517.58 L979.9 2515.74 L985.4 2514.1 L990.9 2512.63 L996.4 2511.32 L1001.9 2510.14 L1007.4 2509.1 L1012.9 2508.16 L1018.4 2507.33 L1023.9 2506.59 L1029.4 2505.93 L1034.9 2505.35 L1040.4 2504.82 L1045.9 2504.36 L1051.4 2503.94 L1056.9 2503.58 L1062.4 2503.25 L1067.9 2502.96 L1073.4 2502.7 L1078.9 2502.47 L1084.4 2502.26 L1089.9 2502.08 L1095.4 2501.92 L1100.9 2501.78 L1106.4 2501.65 L1111.9 2501.53 L1117.4 2501.43 L1122.9 2501.34 L1128.4 2501.27 L1133.9 2501.19" stroke="#0000ff" stroke-width="5" fill="none" stroke-linejoin="round"/>
<path d="M803.9 2758.9V2819.66" stroke="#0000ff" stroke-width="3.7" fill="none"/>
<path d="M913.9 2572.03V2617.61" stroke="#0000ff" stroke-width="3.7" fill="none"/>
<circle cx="363.9" cy="3012.1" r="15" fill="#0000ff"/>
<circle cx="473.9" cy="3012.1" r="15" fill="#0000ff"/>
<circle cx="583.9" cy="3005.51" r="15" fill="#0000ff"/>
<circle cx="693.9" cy="2954.87" r="15" fill="#0000ff"/>
<circle cx="803.9" cy="2789.28" r="15" fill="#0000ff"/>
<circle cx="913.9" cy="2594.82" r="15" fill="#0000ff"/>
<circle cx="1023.9" cy="2507.22" r="15" fill="#0000ff"/>
<circle cx="1133.9" cy="2481.39" r="15" fill="#0000ff"/>
<text x="218.5" y="3022.1" font-size="50" font-weight="bold" text-anchor="end" fill="#000" >0</text>
<text x="218.5" y="2768.9" font-size="50" font-weight="bold" text-anchor="end" fill="#000" >50</text>
<text x="218.5" y="2514.7" font-size="50" font-weight="bold" text-anchor="end" fill="#000" >100</text>
<text x="251.9" y="3110.8" font-size="50" font-weight="bold" text-anchor="middle">10<tspan font-size="32" dy="-15" dx="4.5">-12</tspan></text>
<text x="471.9" y="3110.8" font-size="50" font-weight="bold" text-anchor="middle">10<tspan font-size="32" dy="-15" dx="4.5">-10</tspan></text>
<text x="691.9" y="3110.8" font-size="50" font-weight="bold" text-anchor="middle">10<tspan font-size="32" dy="-15" dx="4.5">-8</tspan></text>
<text x="911.9" y="3110.8" font-size="50" font-weight="bold" text-anchor="middle">10<tspan font-size="32" dy="-15" dx="4.5">-6</tspan></text>
<text x="1131.9" y="3110.8" font-size="50" font-weight="bold" text-anchor="middle">10<tspan font-size="32" dy="-15" dx="4.5">-4</tspan></text>
<text x="569.9" y="3185.7" font-size="53" font-weight="bold" text-anchor="start" fill="#000" textLength="354.7" lengthAdjust="spacingAndGlyphs" >Dopamine (M)</text>
<text transform="translate(110.5 3000.4) rotate(-90)" font-size="59.5" font-weight="bold" textLength="601.3" lengthAdjust="spacingAndGlyphs" xml:space="preserve" stroke="#fff" stroke-width="1.8">BRET  Ratio (% DMSO)</text>
<text x="1288.8" y="2403" font-size="55" font-weight="normal" text-anchor="start" fill="#000" textLength="394.4" lengthAdjust="spacingAndGlyphs" >+ Compound101</text>
<path d="M1288.5 2407H1691.9" stroke="#000" stroke-width="3.4" fill="none"/>
<path d="M1307.3 2490.7H1371.7" stroke="#0000ff" stroke-width="5.5" stroke-linecap="round" fill="none"/>
<circle cx="1339.5" cy="2490.7" r="15" fill="#0000ff"/>
<text x="1411.7" y="2505.4" font-size="54" font-weight="normal" text-anchor="start" fill="#000" textLength="158" lengthAdjust="spacingAndGlyphs" xml:space="preserve">DMSO</text>
<path d="M1307.3 2579.4H1371.7" stroke="#1e96ff" stroke-width="5.5" stroke-linecap="round" fill="none"/>
<path d="M1339.5 2593.7L1353.5 2565.2H1325.5Z" fill="#1e96ff"/>
<text x="1412.7" y="2595.1" font-size="54" font-weight="normal" text-anchor="start" fill="#000" xml:space="preserve">+ 1 µM</text>
<path d="M1311.5 2674.6H1375.9" stroke="#000080" stroke-width="5.5" stroke-linecap="round" fill="none"/>
<rect x="1329.2" y="2660.1" width="29" height="29" fill="#000080"/>
<text x="1416" y="2690.3" font-size="54" font-weight="normal" text-anchor="start" fill="#000" xml:space="preserve">+ 3 µM</text>
<path d="M1311.5 2767.3H1375.9" stroke="#14f0a0" stroke-width="5.5" stroke-linecap="round" fill="none"/>
<polygon points="1343.7,2754.9 1347.23,2763.65 1356.63,2764.3 1349.41,2770.35 1351.69,2779.5 1343.7,2774.5 1335.71,2779.5 1337.99,2770.35 1330.77,2764.3 1340.17,2763.65" fill="#14f0a0"/>
<text x="1416" y="2783" font-size="54" font-weight="normal" text-anchor="start" fill="#000" xml:space="preserve">+10 µM</text>
<path d="M1311.5 2859.4H1375.9" stroke="#005a1e" stroke-width="5.5" stroke-linecap="round" fill="none"/>
<path d="M1331.7 2847.4L1355.7 2871.4M1355.7 2847.4L1331.7 2871.4" stroke="#005a1e" stroke-width="6" fill="none"/>
<text x="1416" y="2876.1" font-size="54" font-weight="normal" text-anchor="start" fill="#000" xml:space="preserve">+30 µM</text>
<path d="M1311.5 2952.1H1375.9" stroke="#b06414" stroke-width="5.5" stroke-linecap="round" fill="none"/>
<path d="M1331.2 2952.1H1356.2M1343.7 2940.1V2964.1" stroke="#b06414" stroke-width="4.5" fill="none"/>
<text x="1416" y="2968.8" font-size="54" font-weight="normal" text-anchor="start" fill="#000" xml:space="preserve">+100 µM</text>
</g>
</svg></body></html>
